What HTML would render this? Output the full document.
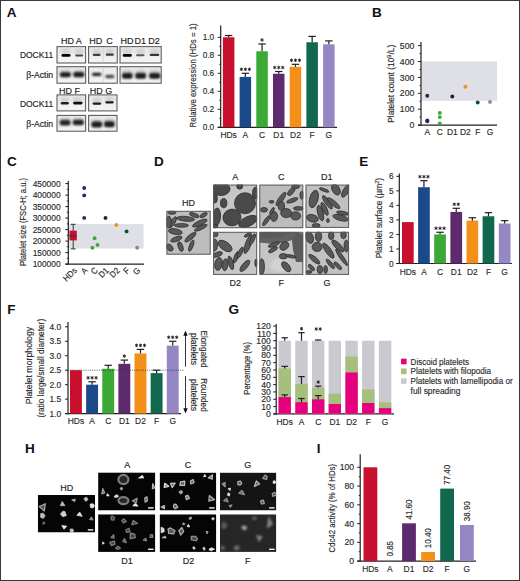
<!DOCTYPE html>
<html><head><meta charset="utf-8"><style>
html,body{margin:0;padding:0;background:#fff;overflow:hidden;width:520px;height:581px;}
svg{display:block;}
text{font-family:"Liberation Sans", sans-serif;}
</style></head><body>
<svg width="520" height="581" viewBox="0 0 520 581">
<defs>
<filter id="bl" x="-50%" y="-50%" width="200%" height="200%"><feGaussianBlur stdDeviation="0.6"/></filter>
<filter id="bl3" x="-50%" y="-50%" width="200%" height="200%"><feGaussianBlur stdDeviation="0.75"/></filter>
<filter id="bl5" x="-50%" y="-50%" width="200%" height="200%"><feGaussianBlur stdDeviation="0.8"/></filter>
<filter id="bl4" x="-50%" y="-50%" width="200%" height="200%"><feGaussianBlur stdDeviation="1.2"/></filter>
<filter id="bl2" x="-50%" y="-50%" width="200%" height="200%"><feGaussianBlur stdDeviation="1.5"/></filter>
<linearGradient id="blotbg" x1="0" y1="0" x2="0" y2="1"><stop offset="0" stop-color="#e9e9e9"/><stop offset="1" stop-color="#f4f4f4"/></linearGradient>
</defs>
<rect x="0" y="0" width="520" height="581" fill="#fff"/>
<text transform="translate(6.7 17) scale(1.13 1)" font-size="12" font-weight="bold" fill="#111">A</text>
<rect x="57.0" y="46.6" width="28.600000000000005" height="16.400000000000002" fill="url(#blotbg)" stroke="#5e5e5e" stroke-width="1.1"/>
<rect x="57.0" y="66.69999999999999" width="28.600000000000005" height="16.500000000000004" fill="url(#blotbg)" stroke="#5e5e5e" stroke-width="1.1"/>
<rect x="88.6" y="46.6" width="28.700000000000006" height="16.400000000000002" fill="url(#blotbg)" stroke="#5e5e5e" stroke-width="1.1"/>
<rect x="88.6" y="66.69999999999999" width="28.700000000000006" height="16.500000000000004" fill="url(#blotbg)" stroke="#5e5e5e" stroke-width="1.1"/>
<rect x="120.0" y="46.6" width="41.2" height="16.400000000000002" fill="url(#blotbg)" stroke="#5e5e5e" stroke-width="1.1"/>
<rect x="120.0" y="66.69999999999999" width="41.2" height="16.500000000000004" fill="url(#blotbg)" stroke="#5e5e5e" stroke-width="1.1"/>
<rect x="57.0" y="94.89999999999999" width="28.600000000000005" height="16.000000000000004" fill="url(#blotbg)" stroke="#5e5e5e" stroke-width="1.1"/>
<rect x="57.0" y="115.39999999999999" width="28.600000000000005" height="15.800000000000015" fill="url(#blotbg)" stroke="#5e5e5e" stroke-width="1.1"/>
<rect x="88.6" y="94.89999999999999" width="28.399999999999995" height="16.000000000000004" fill="url(#blotbg)" stroke="#5e5e5e" stroke-width="1.1"/>
<rect x="88.6" y="115.39999999999999" width="28.399999999999995" height="15.800000000000015" fill="url(#blotbg)" stroke="#5e5e5e" stroke-width="1.1"/>
<rect x="61.00" y="48.00" width="10" height="7" rx="2.5" fill="#d2d2d2" filter="url(#bl2)"/>
<rect x="74.70" y="48.00" width="9" height="7" rx="2.5" fill="#d2d2d2" filter="url(#bl2)"/>
<rect x="92.20" y="48.50" width="9" height="7" rx="2.5" fill="#d2d2d2" filter="url(#bl2)"/>
<rect x="105.30" y="48.50" width="9" height="7" rx="2.5" fill="#d2d2d2" filter="url(#bl2)"/>
<rect x="122.30" y="48.50" width="10" height="6" rx="2.5" fill="#d2d2d2" filter="url(#bl2)"/>
<rect x="135.80" y="48.50" width="9" height="6" rx="2.5" fill="#d2d2d2" filter="url(#bl2)"/>
<rect x="149.50" y="48.50" width="10" height="6" rx="2.5" fill="#d2d2d2" filter="url(#bl2)"/>
<rect x="60.50" y="97.00" width="9" height="6" rx="2.5" fill="#d2d2d2" filter="url(#bl2)"/>
<rect x="72.80" y="97.00" width="10" height="6" rx="2.5" fill="#d2d2d2" filter="url(#bl2)"/>
<rect x="92.40" y="97.50" width="9" height="6" rx="2.5" fill="#d2d2d2" filter="url(#bl2)"/>
<rect x="105.00" y="96.50" width="9" height="6" rx="2.5" fill="#d2d2d2" filter="url(#bl2)"/>
<rect x="59.90" y="70.00" width="11" height="5" rx="2.5" fill="#c4c4c4" filter="url(#bl2)"/>
<rect x="73.30" y="70.00" width="11" height="5" rx="2.5" fill="#c4c4c4" filter="url(#bl2)"/>
<rect x="121.80" y="70.00" width="11" height="6" rx="2.5" fill="#c4c4c4" filter="url(#bl2)"/>
<rect x="135.20" y="70.00" width="11" height="6" rx="2.5" fill="#c4c4c4" filter="url(#bl2)"/>
<rect x="149.20" y="70.00" width="11" height="6" rx="2.5" fill="#c4c4c4" filter="url(#bl2)"/>
<rect x="59.60" y="118.00" width="11" height="5" rx="2.5" fill="#c4c4c4" filter="url(#bl2)"/>
<rect x="72.80" y="118.00" width="11" height="5" rx="2.5" fill="#c4c4c4" filter="url(#bl2)"/>
<rect x="91.30" y="119.50" width="11" height="5" rx="2.5" fill="#c4c4c4" filter="url(#bl2)"/>
<rect x="103.90" y="119.00" width="11" height="5" rx="2.5" fill="#c4c4c4" filter="url(#bl2)"/>
<rect x="61.50" y="54.10" width="9" height="2.6" rx="1.3" fill="#000" filter="url(#bl)"/>
<rect x="75.20" y="54.40" width="8" height="2.2" rx="1.1" fill="#4a4a4a" filter="url(#bl)"/>
<rect x="92.80" y="53.80" width="7.8" height="2.2" rx="1.1" fill="#404040" filter="url(#bl)"/>
<rect x="105.80" y="53.55" width="8" height="2.3" rx="1.15" fill="#3a3a3a" filter="url(#bl)"/>
<rect x="122.80" y="54.05" width="9" height="2.7" rx="1.35" fill="#000" filter="url(#bl)"/>
<rect x="136.10" y="54.30" width="8.4" height="2.0" rx="1.0" fill="#5a5a5a" filter="url(#bl)"/>
<rect x="149.70" y="53.75" width="9.6" height="2.3" rx="1.15" fill="#383838" filter="url(#bl)"/>
<rect x="59.90" y="72.30" width="11" height="5" rx="2.5" fill="#1a1a1a" filter="url(#bl5)"/>
<rect x="73.30" y="72.00" width="11" height="5.2" rx="2.5" fill="#1a1a1a" filter="url(#bl5)"/>
<rect x="91.95" y="72.70" width="9.5" height="3.4" rx="1.7" fill="#202020" filter="url(#bl5)"/>
<rect x="105.20" y="74.80" width="9.2" height="3.4" rx="1.7" fill="#4a4a4a" filter="url(#bl5)"/>
<rect x="122.00" y="72.90" width="10.6" height="5.8" rx="2.5" fill="#1c1c1c" filter="url(#bl5)"/>
<rect x="135.30" y="72.90" width="10.8" height="5.8" rx="2.5" fill="#1c1c1c" filter="url(#bl5)"/>
<rect x="149.10" y="72.90" width="11.2" height="5.8" rx="2.5" fill="#1c1c1c" filter="url(#bl5)"/>
<rect x="60.80" y="102.10" width="8" height="2.4" rx="1.2" fill="#1e1e1e" filter="url(#bl)"/>
<rect x="73.10" y="101.80" width="9.4" height="2.6" rx="1.3" fill="#0e0e0e" filter="url(#bl)"/>
<rect x="92.70" y="102.40" width="8.4" height="2.4" rx="1.2" fill="#1e1e1e" filter="url(#bl)"/>
<rect x="105.30" y="101.15" width="8.4" height="2.3" rx="1.15" fill="#1e1e1e" filter="url(#bl)"/>
<rect x="59.70" y="120.00" width="10.8" height="5.4" rx="2.5" fill="#242424" filter="url(#bl5)"/>
<rect x="72.80" y="119.80" width="11" height="5.4" rx="2.5" fill="#242424" filter="url(#bl5)"/>
<rect x="91.40" y="121.50" width="10.8" height="6" rx="2.5" fill="#1c1c1c" filter="url(#bl5)"/>
<rect x="104.10" y="121.20" width="10.6" height="6" rx="2.5" fill="#1c1c1c" filter="url(#bl5)"/>
<line x1="103.2" y1="47" x2="103.2" y2="63" stroke="#bbb" stroke-width="0.5"/>
<line x1="103.2" y1="67" x2="103.2" y2="83" stroke="#bbb" stroke-width="0.5"/>
<text transform="translate(67.6 43.7) scale(0.98 1)" font-size="9.2" text-anchor="middle" fill="#222" stroke="#222" stroke-width="0.15">HD</text>
<text transform="translate(78.8 43.7) scale(0.98 1)" font-size="9.2" text-anchor="middle" fill="#222" stroke="#222" stroke-width="0.15">A</text>
<text transform="translate(95.7 43.7) scale(0.98 1)" font-size="9.2" text-anchor="middle" fill="#222" stroke="#222" stroke-width="0.15">HD</text>
<text transform="translate(109.4 43.7) scale(0.98 1)" font-size="9.2" text-anchor="middle" fill="#222" stroke="#222" stroke-width="0.15">C</text>
<text transform="translate(127 43.7) scale(0.98 1)" font-size="9.2" text-anchor="middle" fill="#222" stroke="#222" stroke-width="0.15">HD</text>
<text transform="translate(140.2 43.7) scale(0.98 1)" font-size="9.2" text-anchor="middle" fill="#222" stroke="#222" stroke-width="0.15">D1</text>
<text transform="translate(153.9 43.7) scale(0.98 1)" font-size="9.2" text-anchor="middle" fill="#222" stroke="#222" stroke-width="0.15">D2</text>
<text transform="translate(65.6 93.8) scale(0.98 1)" font-size="9.2" text-anchor="middle" fill="#222" stroke="#222" stroke-width="0.15">HD</text>
<text transform="translate(77.3 93.8) scale(0.98 1)" font-size="9.2" text-anchor="middle" fill="#222" stroke="#222" stroke-width="0.15">F</text>
<text transform="translate(96.3 93.8) scale(0.98 1)" font-size="9.2" text-anchor="middle" fill="#222" stroke="#222" stroke-width="0.15">HD</text>
<text transform="translate(108.8 93.8) scale(0.98 1)" font-size="9.2" text-anchor="middle" fill="#222" stroke="#222" stroke-width="0.15">G</text>
<text transform="translate(53.1 57.9)" font-size="8.4" text-anchor="end" fill="#222" stroke="#222" stroke-width="0.15" textLength="33.20" lengthAdjust="spacingAndGlyphs">DOCK11</text>
<text transform="translate(53.1 77.5)" font-size="8.2" text-anchor="end" fill="#222" stroke="#222" stroke-width="0.15" textLength="26.90" lengthAdjust="spacingAndGlyphs">&#946;-Actin</text>
<text transform="translate(53.1 107.1)" font-size="8.4" text-anchor="end" fill="#222" stroke="#222" stroke-width="0.15" textLength="33.20" lengthAdjust="spacingAndGlyphs">DOCK11</text>
<text transform="translate(53.1 126.5)" font-size="8.2" text-anchor="end" fill="#222" stroke="#222" stroke-width="0.15" textLength="26.90" lengthAdjust="spacingAndGlyphs">&#946;-Actin</text>
<line x1="220.7" y1="25.5" x2="220.7" y2="127.89999999999999" stroke="#231f20" stroke-width="1.2"/>
<line x1="217.7" y1="127.3" x2="220.7" y2="127.3" stroke="#231f20" stroke-width="1"/>
<text transform="translate(214.2 130.4) scale(0.95 1)" font-size="8.7" text-anchor="end" fill="#2b2b2b" stroke="#2b2b2b" stroke-width="0.15">0.0</text>
<line x1="217.7" y1="109.3" x2="220.7" y2="109.3" stroke="#231f20" stroke-width="1"/>
<text transform="translate(214.2 112.39999999999999) scale(0.95 1)" font-size="8.7" text-anchor="end" fill="#2b2b2b" stroke="#2b2b2b" stroke-width="0.15">0.2</text>
<line x1="217.7" y1="91.3" x2="220.7" y2="91.3" stroke="#231f20" stroke-width="1"/>
<text transform="translate(214.2 94.39999999999999) scale(0.95 1)" font-size="8.7" text-anchor="end" fill="#2b2b2b" stroke="#2b2b2b" stroke-width="0.15">0.4</text>
<line x1="217.7" y1="73.3" x2="220.7" y2="73.3" stroke="#231f20" stroke-width="1"/>
<text transform="translate(214.2 76.39999999999999) scale(0.95 1)" font-size="8.7" text-anchor="end" fill="#2b2b2b" stroke="#2b2b2b" stroke-width="0.15">0.6</text>
<line x1="217.7" y1="55.3" x2="220.7" y2="55.3" stroke="#231f20" stroke-width="1"/>
<text transform="translate(214.2 58.4) scale(0.95 1)" font-size="8.7" text-anchor="end" fill="#2b2b2b" stroke="#2b2b2b" stroke-width="0.15">0.8</text>
<line x1="217.7" y1="37.3" x2="220.7" y2="37.3" stroke="#231f20" stroke-width="1"/>
<text transform="translate(214.2 40.4) scale(0.95 1)" font-size="8.7" text-anchor="end" fill="#2b2b2b" stroke="#2b2b2b" stroke-width="0.15">1.0</text>
<line x1="219.2" y1="118.3" x2="220.7" y2="118.3" stroke="#231f20" stroke-width="0.9"/>
<line x1="219.2" y1="100.3" x2="220.7" y2="100.3" stroke="#231f20" stroke-width="0.9"/>
<line x1="219.2" y1="82.3" x2="220.7" y2="82.3" stroke="#231f20" stroke-width="0.9"/>
<line x1="219.2" y1="64.3" x2="220.7" y2="64.3" stroke="#231f20" stroke-width="0.9"/>
<line x1="219.2" y1="46.3" x2="220.7" y2="46.3" stroke="#231f20" stroke-width="0.9"/>
<line x1="217.7" y1="127.3" x2="337" y2="127.3" stroke="#231f20" stroke-width="1.2"/>
<rect x="222.9" y="37.3" width="11.5" height="90.0" fill="#c8102e"/>
<line x1="228.65" y1="37.3" x2="228.65" y2="35.5" stroke="#231f20" stroke-width="1.2"/>
<line x1="224.95000000000002" y1="35.5" x2="232.35" y2="35.5" stroke="#231f20" stroke-width="1.2"/>
<text transform="translate(228.65 137.9) scale(0.98 1)" font-size="8.6" text-anchor="middle" fill="#2b2b2b" stroke="#2b2b2b" stroke-width="0.15">HDs</text>
<rect x="239.6" y="76.89999999999999" width="11.5" height="50.400000000000006" fill="#1a4a8a"/>
<line x1="245.35" y1="76.89999999999999" x2="245.35" y2="73.3" stroke="#231f20" stroke-width="1.2"/>
<line x1="241.65" y1="73.3" x2="249.04999999999998" y2="73.3" stroke="#231f20" stroke-width="1.2"/>
<text transform="translate(245.35 137.9) scale(0.98 1)" font-size="8.6" text-anchor="middle" fill="#2b2b2b" stroke="#2b2b2b" stroke-width="0.15">A</text>
<rect x="256.3" y="51.25" width="11.5" height="76.05" fill="#3aa935"/>
<line x1="262.05" y1="51.25" x2="262.05" y2="43.959999999999994" stroke="#231f20" stroke-width="1.2"/>
<line x1="258.35" y1="43.959999999999994" x2="265.75" y2="43.959999999999994" stroke="#231f20" stroke-width="1.2"/>
<text transform="translate(262.05 137.9) scale(0.98 1)" font-size="8.6" text-anchor="middle" fill="#2b2b2b" stroke="#2b2b2b" stroke-width="0.15">C</text>
<rect x="273.0" y="73.75" width="11.5" height="53.55" fill="#5e2a6e"/>
<line x1="278.75" y1="73.75" x2="278.75" y2="71.5" stroke="#231f20" stroke-width="1.2"/>
<line x1="275.05" y1="71.5" x2="282.45" y2="71.5" stroke="#231f20" stroke-width="1.2"/>
<text transform="translate(278.75 137.9) scale(0.98 1)" font-size="8.6" text-anchor="middle" fill="#2b2b2b" stroke="#2b2b2b" stroke-width="0.15">D1</text>
<rect x="289.7" y="66.82" width="11.5" height="60.480000000000004" fill="#f39019"/>
<line x1="295.45" y1="66.82" x2="295.45" y2="64.30000000000001" stroke="#231f20" stroke-width="1.2"/>
<line x1="291.75" y1="64.30000000000001" x2="299.15" y2="64.30000000000001" stroke="#231f20" stroke-width="1.2"/>
<text transform="translate(295.45 137.9) scale(0.98 1)" font-size="8.6" text-anchor="middle" fill="#2b2b2b" stroke="#2b2b2b" stroke-width="0.15">D2</text>
<rect x="306.4" y="42.25" width="11.5" height="85.05" fill="#12684e"/>
<line x1="312.15" y1="42.25" x2="312.15" y2="36.39999999999999" stroke="#231f20" stroke-width="1.2"/>
<line x1="308.45" y1="36.39999999999999" x2="315.84999999999997" y2="36.39999999999999" stroke="#231f20" stroke-width="1.2"/>
<text transform="translate(312.15 137.9) scale(0.98 1)" font-size="8.6" text-anchor="middle" fill="#2b2b2b" stroke="#2b2b2b" stroke-width="0.15">F</text>
<rect x="323.1" y="44.31999999999999" width="11.5" height="82.98" fill="#9487c4"/>
<line x1="328.85" y1="44.31999999999999" x2="328.85" y2="40.900000000000006" stroke="#231f20" stroke-width="1.2"/>
<line x1="325.15000000000003" y1="40.900000000000006" x2="332.55" y2="40.900000000000006" stroke="#231f20" stroke-width="1.2"/>
<text transform="translate(328.85 137.9) scale(0.98 1)" font-size="8.6" text-anchor="middle" fill="#2b2b2b" stroke="#2b2b2b" stroke-width="0.15">G</text>
<path d="M241.35 67.95L241.35 70.65M240.18 68.62L242.52 69.97M242.52 68.62L240.18 69.97" stroke="#222" stroke-width="0.95" stroke-linecap="round" fill="none"/>
<path d="M245.35 67.95L245.35 70.65M244.18 68.62L246.52 69.97M246.52 68.62L244.18 69.97" stroke="#222" stroke-width="0.95" stroke-linecap="round" fill="none"/>
<path d="M249.35 67.95L249.35 70.65M248.18 68.62L250.52 69.97M250.52 68.62L248.18 69.97" stroke="#222" stroke-width="0.95" stroke-linecap="round" fill="none"/>
<path d="M262.05 38.61L262.05 41.31M260.88 39.28L263.22 40.63M263.22 39.28L260.88 40.63" stroke="#222" stroke-width="0.95" stroke-linecap="round" fill="none"/>
<path d="M274.75 66.15L274.75 68.85M273.58 66.83L275.92 68.17M275.92 66.83L273.58 68.17" stroke="#222" stroke-width="0.95" stroke-linecap="round" fill="none"/>
<path d="M278.75 66.15L278.75 68.85M277.58 66.83L279.92 68.17M279.92 66.83L277.58 68.17" stroke="#222" stroke-width="0.95" stroke-linecap="round" fill="none"/>
<path d="M282.75 66.15L282.75 68.85M281.58 66.83L283.92 68.17M283.92 66.83L281.58 68.17" stroke="#222" stroke-width="0.95" stroke-linecap="round" fill="none"/>
<path d="M291.45 58.95L291.45 61.65M290.28 59.63L292.62 60.98M292.62 59.63L290.28 60.98" stroke="#222" stroke-width="0.95" stroke-linecap="round" fill="none"/>
<path d="M295.45 58.95L295.45 61.65M294.28 59.63L296.62 60.98M296.62 59.63L294.28 60.98" stroke="#222" stroke-width="0.95" stroke-linecap="round" fill="none"/>
<path d="M299.45 58.95L299.45 61.65M298.28 59.63L300.62 60.98M300.62 59.63L298.28 60.98" stroke="#222" stroke-width="0.95" stroke-linecap="round" fill="none"/>
<text transform="translate(196.3 75.4) rotate(-90)" font-size="8.6" text-anchor="middle" fill="#2b2b2b" stroke="#2b2b2b" stroke-width="0.15" textLength="104.00" lengthAdjust="spacingAndGlyphs">Relative expression (HDs = 1)</text>
<text transform="translate(372.0 17.3) scale(1.13 1)" font-size="12" font-weight="bold" fill="#111">B</text>
<rect x="421.5" y="61.3" width="75.5" height="39.5" fill="#dfdfe6"/>
<line x1="421" y1="42" x2="421" y2="125.69999999999999" stroke="#231f20" stroke-width="1.2"/>
<line x1="418" y1="125.1" x2="421" y2="125.1" stroke="#231f20" stroke-width="1"/>
<text transform="translate(414.3 128.2)" font-size="8.7" text-anchor="end" fill="#2b2b2b" stroke="#2b2b2b" stroke-width="0.15">0</text>
<line x1="418" y1="109.19999999999999" x2="421" y2="109.19999999999999" stroke="#231f20" stroke-width="1"/>
<text transform="translate(414.3 112.29999999999998)" font-size="8.7" text-anchor="end" fill="#2b2b2b" stroke="#2b2b2b" stroke-width="0.15">100</text>
<line x1="418" y1="93.3" x2="421" y2="93.3" stroke="#231f20" stroke-width="1"/>
<text transform="translate(414.3 96.39999999999999)" font-size="8.7" text-anchor="end" fill="#2b2b2b" stroke="#2b2b2b" stroke-width="0.15">200</text>
<line x1="418" y1="77.39999999999999" x2="421" y2="77.39999999999999" stroke="#231f20" stroke-width="1"/>
<text transform="translate(414.3 80.49999999999999)" font-size="8.7" text-anchor="end" fill="#2b2b2b" stroke="#2b2b2b" stroke-width="0.15">300</text>
<line x1="418" y1="61.49999999999999" x2="421" y2="61.49999999999999" stroke="#231f20" stroke-width="1"/>
<text transform="translate(414.3 64.6)" font-size="8.7" text-anchor="end" fill="#2b2b2b" stroke="#2b2b2b" stroke-width="0.15">400</text>
<line x1="418" y1="45.599999999999994" x2="421" y2="45.599999999999994" stroke="#231f20" stroke-width="1"/>
<text transform="translate(414.3 48.699999999999996)" font-size="8.7" text-anchor="end" fill="#2b2b2b" stroke="#2b2b2b" stroke-width="0.15">500</text>
<line x1="419.5" y1="117.14999999999999" x2="421" y2="117.14999999999999" stroke="#231f20" stroke-width="0.9"/>
<line x1="419.5" y1="101.25" x2="421" y2="101.25" stroke="#231f20" stroke-width="0.9"/>
<line x1="419.5" y1="85.35" x2="421" y2="85.35" stroke="#231f20" stroke-width="0.9"/>
<line x1="419.5" y1="69.44999999999999" x2="421" y2="69.44999999999999" stroke="#231f20" stroke-width="0.9"/>
<line x1="419.5" y1="53.55" x2="421" y2="53.55" stroke="#231f20" stroke-width="0.9"/>
<line x1="418" y1="125.1" x2="497" y2="125.1" stroke="#231f20" stroke-width="1.2"/>
<circle cx="427.3" cy="95.8" r="1.95" fill="#1c2f5e"/>
<circle cx="427.3" cy="120.5" r="1.95" fill="#1c2f5e"/>
<circle cx="427.3" cy="121.3" r="1.95" fill="#1c2f5e"/>
<circle cx="439.8" cy="112.9" r="1.95" fill="#3aa935"/>
<circle cx="439.8" cy="117.1" r="1.95" fill="#3aa935"/>
<circle cx="439.8" cy="123.5" r="1.95" fill="#3aa935"/>
<circle cx="452.3" cy="96.5" r="1.95" fill="#2b1838"/>
<circle cx="465.4" cy="86.8" r="1.95" fill="#f39019"/>
<circle cx="477.7" cy="102.5" r="1.95" fill="#0c4f3a"/>
<circle cx="490" cy="101.9" r="1.95" fill="#8d86a8"/>
<text transform="translate(427.3 135.2) scale(0.98 1)" font-size="8.6" text-anchor="middle" fill="#2b2b2b" stroke="#2b2b2b" stroke-width="0.15">A</text>
<text transform="translate(439.8 135.2) scale(0.98 1)" font-size="8.6" text-anchor="middle" fill="#2b2b2b" stroke="#2b2b2b" stroke-width="0.15">C</text>
<text transform="translate(452.3 135.2) scale(0.98 1)" font-size="8.6" text-anchor="middle" fill="#2b2b2b" stroke="#2b2b2b" stroke-width="0.15">D1</text>
<text transform="translate(465.4 135.2) scale(0.98 1)" font-size="8.6" text-anchor="middle" fill="#2b2b2b" stroke="#2b2b2b" stroke-width="0.15">D2</text>
<text transform="translate(477.7 135.2) scale(0.98 1)" font-size="8.6" text-anchor="middle" fill="#2b2b2b" stroke="#2b2b2b" stroke-width="0.15">F</text>
<text transform="translate(490 135.2) scale(0.98 1)" font-size="8.6" text-anchor="middle" fill="#2b2b2b" stroke="#2b2b2b" stroke-width="0.15">G</text>
<text transform="translate(393.8 83.8) rotate(-90)" font-size="8.4" text-anchor="middle" fill="#2b2b2b" stroke="#2b2b2b" stroke-width="0.15">Platelet count (10<tspan dy="-3" font-size="5.5">9</tspan><tspan dy="3">/L)</tspan></text>
<text transform="translate(7.0 166) scale(1.13 1)" font-size="12" font-weight="bold" fill="#111">C</text>
<rect x="68.3" y="224" width="75.3" height="24.5" fill="#dfdfe6"/>
<line x1="68.3" y1="181" x2="68.3" y2="264.70000000000005" stroke="#231f20" stroke-width="1.2"/>
<line x1="65.3" y1="264.1" x2="68.3" y2="264.1" stroke="#231f20" stroke-width="1"/>
<text transform="translate(60.6 267.20000000000005) scale(0.965 1)" font-size="8.7" text-anchor="end" fill="#2b2b2b" stroke="#2b2b2b" stroke-width="0.15">100000</text>
<line x1="65.3" y1="252.60000000000002" x2="68.3" y2="252.60000000000002" stroke="#231f20" stroke-width="1"/>
<text transform="translate(60.6 255.70000000000002) scale(0.965 1)" font-size="8.7" text-anchor="end" fill="#2b2b2b" stroke="#2b2b2b" stroke-width="0.15">150000</text>
<line x1="65.3" y1="241.10000000000002" x2="68.3" y2="241.10000000000002" stroke="#231f20" stroke-width="1"/>
<text transform="translate(60.6 244.20000000000002) scale(0.965 1)" font-size="8.7" text-anchor="end" fill="#2b2b2b" stroke="#2b2b2b" stroke-width="0.15">200000</text>
<line x1="65.3" y1="229.60000000000002" x2="68.3" y2="229.60000000000002" stroke="#231f20" stroke-width="1"/>
<text transform="translate(60.6 232.70000000000002) scale(0.965 1)" font-size="8.7" text-anchor="end" fill="#2b2b2b" stroke="#2b2b2b" stroke-width="0.15">250000</text>
<line x1="65.3" y1="218.10000000000002" x2="68.3" y2="218.10000000000002" stroke="#231f20" stroke-width="1"/>
<text transform="translate(60.6 221.20000000000002) scale(0.965 1)" font-size="8.7" text-anchor="end" fill="#2b2b2b" stroke="#2b2b2b" stroke-width="0.15">300000</text>
<line x1="65.3" y1="206.60000000000002" x2="68.3" y2="206.60000000000002" stroke="#231f20" stroke-width="1"/>
<text transform="translate(60.6 209.70000000000002) scale(0.965 1)" font-size="8.7" text-anchor="end" fill="#2b2b2b" stroke="#2b2b2b" stroke-width="0.15">350000</text>
<line x1="65.3" y1="195.10000000000002" x2="68.3" y2="195.10000000000002" stroke="#231f20" stroke-width="1"/>
<text transform="translate(60.6 198.20000000000002) scale(0.965 1)" font-size="8.7" text-anchor="end" fill="#2b2b2b" stroke="#2b2b2b" stroke-width="0.15">400000</text>
<line x1="65.3" y1="183.60000000000002" x2="68.3" y2="183.60000000000002" stroke="#231f20" stroke-width="1"/>
<text transform="translate(60.6 186.70000000000002) scale(0.965 1)" font-size="8.7" text-anchor="end" fill="#2b2b2b" stroke="#2b2b2b" stroke-width="0.15">450000</text>
<line x1="66.8" y1="258.35" x2="68.3" y2="258.35" stroke="#231f20" stroke-width="0.9"/>
<line x1="66.8" y1="246.85000000000002" x2="68.3" y2="246.85000000000002" stroke="#231f20" stroke-width="0.9"/>
<line x1="66.8" y1="235.35000000000002" x2="68.3" y2="235.35000000000002" stroke="#231f20" stroke-width="0.9"/>
<line x1="66.8" y1="223.85000000000002" x2="68.3" y2="223.85000000000002" stroke="#231f20" stroke-width="0.9"/>
<line x1="66.8" y1="212.35000000000002" x2="68.3" y2="212.35000000000002" stroke="#231f20" stroke-width="0.9"/>
<line x1="66.8" y1="200.85000000000002" x2="68.3" y2="200.85000000000002" stroke="#231f20" stroke-width="0.9"/>
<line x1="66.8" y1="189.35000000000002" x2="68.3" y2="189.35000000000002" stroke="#231f20" stroke-width="0.9"/>
<line x1="65.3" y1="264.1" x2="144" y2="264.1" stroke="#231f20" stroke-width="1.2"/>
<line x1="73.2" y1="224.3" x2="73.2" y2="248.9" stroke="#333" stroke-width="1"/>
<line x1="70.7" y1="224.3" x2="75.7" y2="224.3" stroke="#333" stroke-width="1"/>
<line x1="70.7" y1="248.9" x2="75.7" y2="248.9" stroke="#333" stroke-width="1"/>
<rect x="69.5" y="230.7" width="7.3" height="9.7" fill="#c8102e"/>
<line x1="69.5" y1="235.9" x2="76.8" y2="235.9" stroke="#333" stroke-width="1"/>
<circle cx="84.2" cy="188" r="1.95" fill="#1c2f5e"/>
<circle cx="84.2" cy="195.4" r="1.95" fill="#1c2f5e"/>
<circle cx="84.2" cy="217.9" r="1.95" fill="#1c2f5e"/>
<circle cx="94.6" cy="238.3" r="1.95" fill="#3aa935"/>
<circle cx="92.4" cy="247.7" r="1.95" fill="#3aa935"/>
<circle cx="97.5" cy="244.9" r="1.95" fill="#3aa935"/>
<circle cx="105.5" cy="217.9" r="1.95" fill="#2b1838"/>
<circle cx="116.4" cy="225" r="1.95" fill="#f39019"/>
<circle cx="126.6" cy="231.4" r="1.95" fill="#0c4f3a"/>
<circle cx="137.2" cy="247.7" r="1.95" fill="#8d86a8"/>
<text transform="translate(77.5 271) rotate(-45) scale(0.93 1)" font-size="8.6" text-anchor="end" fill="#2b2b2b" stroke="#2b2b2b" stroke-width="0.15">HDs</text>
<text transform="translate(88.2 271) rotate(-45) scale(0.93 1)" font-size="8.6" text-anchor="end" fill="#2b2b2b" stroke="#2b2b2b" stroke-width="0.15">A</text>
<text transform="translate(98.3 271) rotate(-45) scale(0.93 1)" font-size="8.6" text-anchor="end" fill="#2b2b2b" stroke="#2b2b2b" stroke-width="0.15">C</text>
<text transform="translate(109.3 271) rotate(-45) scale(0.93 1)" font-size="8.6" text-anchor="end" fill="#2b2b2b" stroke="#2b2b2b" stroke-width="0.15">D1</text>
<text transform="translate(120.3 271) rotate(-45) scale(0.93 1)" font-size="8.6" text-anchor="end" fill="#2b2b2b" stroke="#2b2b2b" stroke-width="0.15">D2</text>
<text transform="translate(130.3 271) rotate(-45) scale(0.93 1)" font-size="8.6" text-anchor="end" fill="#2b2b2b" stroke="#2b2b2b" stroke-width="0.15">F</text>
<text transform="translate(140.8 271) rotate(-45) scale(0.93 1)" font-size="8.6" text-anchor="end" fill="#2b2b2b" stroke="#2b2b2b" stroke-width="0.15">G</text>
<text transform="translate(26.3 222) rotate(-90)" font-size="8.4" text-anchor="middle" fill="#2b2b2b" stroke="#2b2b2b" stroke-width="0.15" textLength="88.00" lengthAdjust="spacingAndGlyphs">Platelet size (FSC-H; a.u.)</text>
<text transform="translate(154.0 166) scale(1.13 1)" font-size="12" font-weight="bold" fill="#111">D</text>
<clipPath id="emHD"><rect x="166.4" y="210.8" width="44.3" height="43.9"/></clipPath>
<g clip-path="url(#emHD)">
<rect x="166.4" y="210.8" width="44.3" height="43.9" fill="#bdbdbd"/>
<ellipse cx="185.7" cy="218.8" rx="9.00" ry="2.39" fill="#585858" stroke="#2e2e2e" stroke-width="0.8" transform="rotate(5 185.7 218.8)"/>
<ellipse cx="173" cy="222.1" rx="6.00" ry="2.12" fill="#585858" stroke="#2e2e2e" stroke-width="0.8" transform="rotate(-60 173 222.1)"/>
<ellipse cx="181.4" cy="225.4" rx="7.00" ry="1.84" fill="#585858" stroke="#2e2e2e" stroke-width="0.8" transform="rotate(0 181.4 225.4)"/>
<ellipse cx="175.3" cy="231.6" rx="7.00" ry="2.76" fill="#585858" stroke="#2e2e2e" stroke-width="0.8" transform="rotate(10 175.3 231.6)"/>
<ellipse cx="194.2" cy="215.1" rx="5.00" ry="1.84" fill="#585858" stroke="#2e2e2e" stroke-width="0.8" transform="rotate(20 194.2 215.1)"/>
<ellipse cx="203.6" cy="215.1" rx="4.00" ry="1.84" fill="#585858" stroke="#2e2e2e" stroke-width="0.8" transform="rotate(-30 203.6 215.1)"/>
<ellipse cx="199.8" cy="223.1" rx="8.00" ry="2.30" fill="#585858" stroke="#2e2e2e" stroke-width="0.8" transform="rotate(-25 199.8 223.1)"/>
<ellipse cx="200.8" cy="227.8" rx="7.00" ry="1.84" fill="#585858" stroke="#2e2e2e" stroke-width="0.8" transform="rotate(-25 200.8 227.8)"/>
<ellipse cx="176.3" cy="239.1" rx="6.00" ry="2.30" fill="#585858" stroke="#2e2e2e" stroke-width="0.8" transform="rotate(-20 176.3 239.1)"/>
<ellipse cx="190.4" cy="237.2" rx="7.00" ry="2.30" fill="#585858" stroke="#2e2e2e" stroke-width="0.8" transform="rotate(-40 190.4 237.2)"/>
<ellipse cx="180.5" cy="246.6" rx="5.00" ry="2.30" fill="#585858" stroke="#2e2e2e" stroke-width="0.8" transform="rotate(70 180.5 246.6)"/>
<ellipse cx="191.3" cy="245.7" rx="6.00" ry="1.84" fill="#585858" stroke="#2e2e2e" stroke-width="0.8" transform="rotate(-70 191.3 245.7)"/>
<ellipse cx="169.7" cy="247.6" rx="4.00" ry="2.76" fill="#585858" stroke="#2e2e2e" stroke-width="0.8" transform="rotate(45 169.7 247.6)"/>
<ellipse cx="168.7" cy="222.1" rx="2.76" ry="6.00" fill="#585858" stroke="#2e2e2e" stroke-width="0.8" transform="rotate(0 168.7 222.1)"/>
<ellipse cx="172" cy="212.5" rx="4.00" ry="1.84" fill="#585858" stroke="#2e2e2e" stroke-width="0.8" transform="rotate(0 172 212.5)"/>
</g>
<rect x="166.9" y="211.3" width="43.3" height="42.9" fill="none" stroke="#5a5a5a" stroke-width="1"/>
<clipPath id="emA"><rect x="213.1" y="184.6" width="44.1" height="43.6"/></clipPath>
<g clip-path="url(#emA)">
<rect x="213.1" y="184.6" width="44.1" height="43.6" fill="#c6c6c6"/>
<ellipse cx="221" cy="189" rx="9.00" ry="6.50" fill="#4a4a4a" stroke="#2e2e2e" stroke-width="0.8" transform="rotate(0 221 189)"/>
<ellipse cx="245" cy="203.2" rx="10.50" ry="10.50" fill="#4a4a4a" stroke="#2e2e2e" stroke-width="0.8" transform="rotate(0 245 203.2)"/>
<ellipse cx="232" cy="217.5" rx="9.00" ry="8.30" fill="#4a4a4a" stroke="#2e2e2e" stroke-width="0.8" transform="rotate(-10 232 217.5)"/>
<ellipse cx="223.7" cy="203.2" rx="3.20" ry="4.60" fill="#4a4a4a" stroke="#2e2e2e" stroke-width="0.8" transform="rotate(0 223.7 203.2)"/>
<ellipse cx="255.5" cy="193" rx="3.00" ry="6.00" fill="#4a4a4a" stroke="#2e2e2e" stroke-width="0.8" transform="rotate(0 255.5 193)"/>
<ellipse cx="248" cy="221.5" rx="10.00" ry="4.80" fill="#4a4a4a" stroke="#2e2e2e" stroke-width="0.8" transform="rotate(-25 248 221.5)"/>
<ellipse cx="216.5" cy="217" rx="4.00" ry="9.00" fill="#4a4a4a" stroke="#2e2e2e" stroke-width="0.8" transform="rotate(5 216.5 217)"/>
<ellipse cx="214.8" cy="198.5" rx="2.50" ry="4.50" fill="#4a4a4a" stroke="#2e2e2e" stroke-width="0.8" transform="rotate(0 214.8 198.5)"/>
<ellipse cx="239.7" cy="186.2" rx="3.00" ry="3.00" fill="#4a4a4a" stroke="#2e2e2e" stroke-width="0.8" transform="rotate(0 239.7 186.2)"/>
<ellipse cx="214.8" cy="226.3" rx="3.00" ry="2.00" fill="#4a4a4a" stroke="#2e2e2e" stroke-width="0.8" transform="rotate(0 214.8 226.3)"/>
</g>
<rect x="213.6" y="185.1" width="43.1" height="42.6" fill="none" stroke="#5a5a5a" stroke-width="1"/>
<clipPath id="emC"><rect x="259.3" y="184.6" width="44" height="43.6"/></clipPath>
<g clip-path="url(#emC)">
<rect x="259.3" y="184.6" width="44" height="43.6" fill="#bcbcbc"/>
<ellipse cx="281" cy="199" rx="8.00" ry="2.30" fill="#585858" stroke="#2e2e2e" stroke-width="0.8" transform="rotate(-55 281 199)"/>
<ellipse cx="291.3" cy="191.4" rx="5.00" ry="2.30" fill="#585858" stroke="#2e2e2e" stroke-width="0.8" transform="rotate(-50 291.3 191.4)"/>
<ellipse cx="292.3" cy="200.4" rx="6.00" ry="1.84" fill="#585858" stroke="#2e2e2e" stroke-width="0.8" transform="rotate(-20 292.3 200.4)"/>
<ellipse cx="271.6" cy="201.8" rx="2.50" ry="1.38" fill="#585858" stroke="#2e2e2e" stroke-width="0.8" transform="rotate(0 271.6 201.8)"/>
<ellipse cx="264" cy="209.8" rx="3.50" ry="2.30" fill="#585858" stroke="#2e2e2e" stroke-width="0.8" transform="rotate(0 264 209.8)"/>
<ellipse cx="281.4" cy="206" rx="3.22" ry="4.50" fill="#585858" stroke="#2e2e2e" stroke-width="0.8" transform="rotate(0 281.4 206)"/>
<ellipse cx="286.2" cy="213.1" rx="5.50" ry="4.60" fill="#585858" stroke="#2e2e2e" stroke-width="0.8" transform="rotate(0 286.2 213.1)"/>
<ellipse cx="273.9" cy="216.4" rx="3.68" ry="5.00" fill="#585858" stroke="#2e2e2e" stroke-width="0.8" transform="rotate(0 273.9 216.4)"/>
<ellipse cx="295.6" cy="215.9" rx="5.00" ry="4.14" fill="#585858" stroke="#2e2e2e" stroke-width="0.8" transform="rotate(0 295.6 215.9)"/>
<ellipse cx="298.4" cy="208.4" rx="5.00" ry="1.84" fill="#585858" stroke="#2e2e2e" stroke-width="0.8" transform="rotate(0 298.4 208.4)"/>
<ellipse cx="266.4" cy="220.6" rx="6.00" ry="1.84" fill="#585858" stroke="#2e2e2e" stroke-width="0.8" transform="rotate(-55 266.4 220.6)"/>
<ellipse cx="301.8" cy="195.2" rx="1.84" ry="4.00" fill="#585858" stroke="#2e2e2e" stroke-width="0.8" transform="rotate(0 301.8 195.2)"/>
<ellipse cx="272" cy="211" rx="4.00" ry="1.38" fill="#585858" stroke="#2e2e2e" stroke-width="0.8" transform="rotate(-60 272 211)"/>
<ellipse cx="295.6" cy="186.7" rx="4.00" ry="1.84" fill="#585858" stroke="#2e2e2e" stroke-width="0.8" transform="rotate(0 295.6 186.7)"/>
</g>
<rect x="259.8" y="185.1" width="43" height="42.6" fill="none" stroke="#5a5a5a" stroke-width="1"/>
<clipPath id="emD1"><rect x="305.5" y="184.6" width="43.6" height="43.3"/></clipPath>
<g clip-path="url(#emD1)">
<rect x="305.5" y="184.6" width="43.6" height="43.3" fill="#c0c0c0"/>
<ellipse cx="313.8" cy="199" rx="4.14" ry="9.00" fill="#585858" stroke="#2e2e2e" stroke-width="0.8" transform="rotate(15 313.8 199)"/>
<ellipse cx="335.9" cy="189.5" rx="3.68" ry="6.00" fill="#585858" stroke="#2e2e2e" stroke-width="0.8" transform="rotate(-30 335.9 189.5)"/>
<ellipse cx="345.8" cy="191" rx="2.76" ry="7.00" fill="#585858" stroke="#2e2e2e" stroke-width="0.8" transform="rotate(30 345.8 191)"/>
<ellipse cx="324.1" cy="190" rx="5.00" ry="1.38" fill="#585858" stroke="#2e2e2e" stroke-width="0.8" transform="rotate(20 324.1 190)"/>
<ellipse cx="327.4" cy="202.3" rx="2.30" ry="8.00" fill="#585858" stroke="#2e2e2e" stroke-width="0.8" transform="rotate(-35 327.4 202.3)"/>
<ellipse cx="333.6" cy="203.2" rx="2.30" ry="8.00" fill="#585858" stroke="#2e2e2e" stroke-width="0.8" transform="rotate(-50 333.6 203.2)"/>
<ellipse cx="324.6" cy="208.9" rx="2.30" ry="7.00" fill="#585858" stroke="#2e2e2e" stroke-width="0.8" transform="rotate(-25 324.6 208.9)"/>
<ellipse cx="320.4" cy="213.1" rx="2.76" ry="8.00" fill="#585858" stroke="#2e2e2e" stroke-width="0.8" transform="rotate(-15 320.4 213.1)"/>
<ellipse cx="312.4" cy="218.3" rx="6.00" ry="3.68" fill="#585858" stroke="#2e2e2e" stroke-width="0.8" transform="rotate(15 312.4 218.3)"/>
<ellipse cx="340.6" cy="217.8" rx="8.00" ry="2.76" fill="#585858" stroke="#2e2e2e" stroke-width="0.8" transform="rotate(15 340.6 217.8)"/>
<ellipse cx="342.5" cy="213.1" rx="6.00" ry="1.84" fill="#585858" stroke="#2e2e2e" stroke-width="0.8" transform="rotate(10 342.5 213.1)"/>
<ellipse cx="316.1" cy="225.4" rx="4.00" ry="1.84" fill="#585858" stroke="#2e2e2e" stroke-width="0.8" transform="rotate(0 316.1 225.4)"/>
<ellipse cx="327.9" cy="220.6" rx="1.38" ry="2.00" fill="#585858" stroke="#2e2e2e" stroke-width="0.8" transform="rotate(0 327.9 220.6)"/>
</g>
<rect x="306.0" y="185.1" width="42.6" height="42.3" fill="none" stroke="#5a5a5a" stroke-width="1"/>
<clipPath id="emD2"><rect x="213.1" y="231.8" width="44.1" height="43.1"/></clipPath>
<g clip-path="url(#emD2)">
<rect x="213.1" y="231.8" width="44.1" height="43.1" fill="#c6c6c6"/>
<ellipse cx="225.1" cy="246" rx="8.00" ry="4.14" fill="#585858" stroke="#2e2e2e" stroke-width="0.8" transform="rotate(35 225.1 246)"/>
<ellipse cx="217.6" cy="254.4" rx="5.00" ry="2.30" fill="#585858" stroke="#2e2e2e" stroke-width="0.8" transform="rotate(-20 217.6 254.4)"/>
<ellipse cx="218.5" cy="263.9" rx="3.68" ry="6.50" fill="#585858" stroke="#2e2e2e" stroke-width="0.8" transform="rotate(10 218.5 263.9)"/>
<ellipse cx="225.1" cy="264.8" rx="2.76" ry="6.00" fill="#585858" stroke="#2e2e2e" stroke-width="0.8" transform="rotate(5 225.1 264.8)"/>
<ellipse cx="230.8" cy="262.9" rx="2.30" ry="7.00" fill="#585858" stroke="#2e2e2e" stroke-width="0.8" transform="rotate(-15 230.8 262.9)"/>
<ellipse cx="236" cy="257.3" rx="1.84" ry="6.00" fill="#585858" stroke="#2e2e2e" stroke-width="0.8" transform="rotate(20 236 257.3)"/>
<ellipse cx="240.2" cy="252.6" rx="1.84" ry="6.00" fill="#585858" stroke="#2e2e2e" stroke-width="0.8" transform="rotate(25 240.2 252.6)"/>
<ellipse cx="248.2" cy="244.1" rx="2.76" ry="10.00" fill="#585858" stroke="#2e2e2e" stroke-width="0.8" transform="rotate(20 248.2 244.1)"/>
<ellipse cx="252.5" cy="239.4" rx="1.84" ry="6.00" fill="#585858" stroke="#2e2e2e" stroke-width="0.8" transform="rotate(25 252.5 239.4)"/>
<ellipse cx="244.9" cy="265.8" rx="2.76" ry="7.00" fill="#585858" stroke="#2e2e2e" stroke-width="0.8" transform="rotate(40 244.9 265.8)"/>
<ellipse cx="214.8" cy="245" rx="2.76" ry="6.00" fill="#585858" stroke="#2e2e2e" stroke-width="0.8" transform="rotate(0 214.8 245)"/>
<ellipse cx="215" cy="234.5" rx="3.00" ry="2.30" fill="#585858" stroke="#2e2e2e" stroke-width="0.8" transform="rotate(0 215 234.5)"/>
<ellipse cx="247.8" cy="234.7" rx="4.00" ry="1.38" fill="#585858" stroke="#2e2e2e" stroke-width="0.8" transform="rotate(-30 247.8 234.7)"/>
<ellipse cx="256.2" cy="262.9" rx="1.38" ry="4.00" fill="#585858" stroke="#2e2e2e" stroke-width="0.8" transform="rotate(0 256.2 262.9)"/>
</g>
<rect x="213.6" y="232.3" width="43.1" height="42.1" fill="none" stroke="#5a5a5a" stroke-width="1"/>
<clipPath id="emF"><rect x="259.3" y="231.8" width="44" height="43.1"/></clipPath>
<g clip-path="url(#emF)">
<rect x="259.3" y="231.8" width="44" height="43.1" fill="#c4c4c4"/>
<path d="M259.3 231.8 L296 231.8 L303.3 234 L303.3 262 L296 262 L293 250 L292 240 L282 243 L270 243.5 L259.3 242.5 Z" fill="#5a5a5a"/>
<path d="M259.3 242.5 L270 243.5 L282 243 L292 240 L296 236 L296 231.8 L282 236 L270 238 L259.3 238 Z" fill="#6a6a6a" opacity="0.5"/>
<ellipse cx="280" cy="265" rx="10" ry="7" fill="#dcdcdc" opacity="0.6" filter="url(#bl2)"/>
<ellipse cx="273.9" cy="244.6" rx="6.00" ry="1.84" fill="#585858" stroke="#2e2e2e" stroke-width="0.8" transform="rotate(-20 273.9 244.6)"/>
<ellipse cx="273" cy="249.7" rx="5.00" ry="1.84" fill="#585858" stroke="#2e2e2e" stroke-width="0.8" transform="rotate(-30 273 249.7)"/>
<ellipse cx="284.3" cy="246" rx="5.00" ry="3.68" fill="#585858" stroke="#2e2e2e" stroke-width="0.8" transform="rotate(-40 284.3 246)"/>
<ellipse cx="283.3" cy="256.3" rx="4.00" ry="2.76" fill="#585858" stroke="#2e2e2e" stroke-width="0.8" transform="rotate(0 283.3 256.3)"/>
<ellipse cx="290.9" cy="256.3" rx="5.00" ry="1.38" fill="#585858" stroke="#2e2e2e" stroke-width="0.8" transform="rotate(10 290.9 256.3)"/>
<ellipse cx="286.2" cy="266.7" rx="6.00" ry="3.22" fill="#585858" stroke="#2e2e2e" stroke-width="0.8" transform="rotate(50 286.2 266.7)"/>
<ellipse cx="261.7" cy="266.7" rx="2.76" ry="8.00" fill="#585858" stroke="#2e2e2e" stroke-width="0.8" transform="rotate(0 261.7 266.7)"/>
</g>
<rect x="259.8" y="232.3" width="43" height="42.1" fill="none" stroke="#5a5a5a" stroke-width="1"/>
<clipPath id="emG"><rect x="305.5" y="231.8" width="43.6" height="43.1"/></clipPath>
<g clip-path="url(#emG)">
<rect x="305.5" y="231.8" width="43.6" height="43.1" fill="#c2c2c2"/>
<ellipse cx="318.5" cy="236.5" rx="3.22" ry="5.00" fill="#585858" stroke="#2e2e2e" stroke-width="0.8" transform="rotate(0 318.5 236.5)"/>
<ellipse cx="309.5" cy="237.5" rx="3.68" ry="6.00" fill="#585858" stroke="#2e2e2e" stroke-width="0.8" transform="rotate(-20 309.5 237.5)"/>
<ellipse cx="317.1" cy="246.9" rx="5.00" ry="4.60" fill="#585858" stroke="#2e2e2e" stroke-width="0.8" transform="rotate(0 317.1 246.9)"/>
<ellipse cx="314.3" cy="259.2" rx="7.00" ry="2.30" fill="#585858" stroke="#2e2e2e" stroke-width="0.8" transform="rotate(40 314.3 259.2)"/>
<ellipse cx="311.4" cy="267.6" rx="4.00" ry="1.84" fill="#585858" stroke="#2e2e2e" stroke-width="0.8" transform="rotate(45 311.4 267.6)"/>
<ellipse cx="328.4" cy="250.7" rx="2.76" ry="9.00" fill="#585858" stroke="#2e2e2e" stroke-width="0.8" transform="rotate(-35 328.4 250.7)"/>
<ellipse cx="330.3" cy="263.9" rx="6.00" ry="1.84" fill="#585858" stroke="#2e2e2e" stroke-width="0.8" transform="rotate(50 330.3 263.9)"/>
<ellipse cx="337.8" cy="246" rx="2.76" ry="8.00" fill="#585858" stroke="#2e2e2e" stroke-width="0.8" transform="rotate(-45 337.8 246)"/>
<ellipse cx="341.6" cy="257.3" rx="1.84" ry="10.00" fill="#585858" stroke="#2e2e2e" stroke-width="0.8" transform="rotate(-35 341.6 257.3)"/>
<ellipse cx="337.8" cy="265.8" rx="5.00" ry="1.84" fill="#585858" stroke="#2e2e2e" stroke-width="0.8" transform="rotate(45 337.8 265.8)"/>
<ellipse cx="331.2" cy="235.6" rx="2.76" ry="4.00" fill="#585858" stroke="#2e2e2e" stroke-width="0.8" transform="rotate(0 331.2 235.6)"/>
<ellipse cx="343.5" cy="234.7" rx="2.76" ry="4.00" fill="#585858" stroke="#2e2e2e" stroke-width="0.8" transform="rotate(0 343.5 234.7)"/>
<ellipse cx="346.3" cy="246" rx="2.30" ry="6.00" fill="#585858" stroke="#2e2e2e" stroke-width="0.8" transform="rotate(0 346.3 246)"/>
<ellipse cx="325.6" cy="269.5" rx="1.84" ry="4.00" fill="#585858" stroke="#2e2e2e" stroke-width="0.8" transform="rotate(0 325.6 269.5)"/>
<ellipse cx="319.9" cy="269.5" rx="2.76" ry="4.00" fill="#585858" stroke="#2e2e2e" stroke-width="0.8" transform="rotate(0 319.9 269.5)"/>
<ellipse cx="309" cy="272" rx="3.00" ry="1.38" fill="#585858" stroke="#2e2e2e" stroke-width="0.8" transform="rotate(0 309 272)"/>
</g>
<rect x="306.0" y="232.3" width="42.6" height="42.1" fill="none" stroke="#5a5a5a" stroke-width="1"/>
<text transform="translate(188.4 205.5) scale(0.98 1)" font-size="9.2" text-anchor="middle" fill="#222" stroke="#222" stroke-width="0.15">HD</text>
<text transform="translate(235.2 180.1) scale(0.98 1)" font-size="9.2" text-anchor="middle" fill="#222" stroke="#222" stroke-width="0.15">A</text>
<text transform="translate(281.2 180.1) scale(0.98 1)" font-size="9.2" text-anchor="middle" fill="#222" stroke="#222" stroke-width="0.15">C</text>
<text transform="translate(326.8 180.1) scale(0.98 1)" font-size="9.2" text-anchor="middle" fill="#222" stroke="#222" stroke-width="0.15">D1</text>
<text transform="translate(235.2 286.1) scale(0.98 1)" font-size="9.2" text-anchor="middle" fill="#222" stroke="#222" stroke-width="0.15">D2</text>
<text transform="translate(281.2 286.1) scale(0.98 1)" font-size="9.2" text-anchor="middle" fill="#222" stroke="#222" stroke-width="0.15">F</text>
<text transform="translate(327 286.1) scale(0.98 1)" font-size="9.2" text-anchor="middle" fill="#222" stroke="#222" stroke-width="0.15">G</text>
<text transform="translate(359.3 166) scale(1.13 1)" font-size="12" font-weight="bold" fill="#111">E</text>
<line x1="399.3" y1="173.5" x2="399.3" y2="264.1" stroke="#231f20" stroke-width="1.2"/>
<line x1="396.3" y1="263.5" x2="399.3" y2="263.5" stroke="#231f20" stroke-width="1"/>
<text transform="translate(393.6 266.6) scale(0.9 1)" font-size="9.2" text-anchor="end" fill="#2b2b2b" stroke="#2b2b2b" stroke-width="0.15">0</text>
<line x1="396.3" y1="248.97" x2="399.3" y2="248.97" stroke="#231f20" stroke-width="1"/>
<text transform="translate(393.6 252.07) scale(0.9 1)" font-size="9.2" text-anchor="end" fill="#2b2b2b" stroke="#2b2b2b" stroke-width="0.15">1</text>
<line x1="396.3" y1="234.44" x2="399.3" y2="234.44" stroke="#231f20" stroke-width="1"/>
<text transform="translate(393.6 237.54) scale(0.9 1)" font-size="9.2" text-anchor="end" fill="#2b2b2b" stroke="#2b2b2b" stroke-width="0.15">2</text>
<line x1="396.3" y1="219.91" x2="399.3" y2="219.91" stroke="#231f20" stroke-width="1"/>
<text transform="translate(393.6 223.01) scale(0.9 1)" font-size="9.2" text-anchor="end" fill="#2b2b2b" stroke="#2b2b2b" stroke-width="0.15">3</text>
<line x1="396.3" y1="205.38" x2="399.3" y2="205.38" stroke="#231f20" stroke-width="1"/>
<text transform="translate(393.6 208.48) scale(0.9 1)" font-size="9.2" text-anchor="end" fill="#2b2b2b" stroke="#2b2b2b" stroke-width="0.15">4</text>
<line x1="396.3" y1="190.85000000000002" x2="399.3" y2="190.85000000000002" stroke="#231f20" stroke-width="1"/>
<text transform="translate(393.6 193.95000000000002) scale(0.9 1)" font-size="9.2" text-anchor="end" fill="#2b2b2b" stroke="#2b2b2b" stroke-width="0.15">5</text>
<line x1="396.3" y1="176.32" x2="399.3" y2="176.32" stroke="#231f20" stroke-width="1"/>
<text transform="translate(393.6 179.42) scale(0.9 1)" font-size="9.2" text-anchor="end" fill="#2b2b2b" stroke="#2b2b2b" stroke-width="0.15">6</text>
<line x1="396" y1="263.5" x2="512" y2="263.5" stroke="#231f20" stroke-width="1.2"/>
<rect x="402" y="222.0895" width="11.7" height="41.4105" fill="#c8102e"/>
<text transform="translate(407.85 274.6) scale(0.98 1)" font-size="8.6" text-anchor="middle" fill="#2b2b2b" stroke="#2b2b2b" stroke-width="0.15">HDs</text>
<rect x="418.1" y="187.2175" width="11.7" height="76.2825" fill="#1a4a8a"/>
<line x1="423.95000000000005" y1="187.2175" x2="423.95000000000005" y2="180.679" stroke="#231f20" stroke-width="1.2"/>
<line x1="420.25000000000006" y1="180.679" x2="427.65000000000003" y2="180.679" stroke="#231f20" stroke-width="1.2"/>
<text transform="translate(423.95000000000005 274.6) scale(0.98 1)" font-size="8.6" text-anchor="middle" fill="#2b2b2b" stroke="#2b2b2b" stroke-width="0.15">A</text>
<rect x="434.2" y="234.44" width="11.7" height="29.06" fill="#3aa935"/>
<line x1="440.05" y1="234.44" x2="440.05" y2="232.2605" stroke="#231f20" stroke-width="1.2"/>
<line x1="436.35" y1="232.2605" x2="443.75" y2="232.2605" stroke="#231f20" stroke-width="1.2"/>
<text transform="translate(440.05 274.6) scale(0.98 1)" font-size="8.6" text-anchor="middle" fill="#2b2b2b" stroke="#2b2b2b" stroke-width="0.15">C</text>
<rect x="450.4" y="211.9185" width="11.7" height="51.5815" fill="#5e2a6e"/>
<line x1="456.25" y1="211.9185" x2="456.25" y2="208.286" stroke="#231f20" stroke-width="1.2"/>
<line x1="452.55" y1="208.286" x2="459.95" y2="208.286" stroke="#231f20" stroke-width="1.2"/>
<text transform="translate(456.25 274.6) scale(0.98 1)" font-size="8.6" text-anchor="middle" fill="#2b2b2b" stroke="#2b2b2b" stroke-width="0.15">D1</text>
<rect x="466.5" y="220.6365" width="11.7" height="42.8635" fill="#f39019"/>
<line x1="472.35" y1="220.6365" x2="472.35" y2="217.7305" stroke="#231f20" stroke-width="1.2"/>
<line x1="468.65000000000003" y1="217.7305" x2="476.05" y2="217.7305" stroke="#231f20" stroke-width="1.2"/>
<text transform="translate(472.35 274.6) scale(0.98 1)" font-size="8.6" text-anchor="middle" fill="#2b2b2b" stroke="#2b2b2b" stroke-width="0.15">D2</text>
<rect x="482.6" y="216.2775" width="11.7" height="47.2225" fill="#12684e"/>
<line x1="488.45000000000005" y1="216.2775" x2="488.45000000000005" y2="212.645" stroke="#231f20" stroke-width="1.2"/>
<line x1="484.75000000000006" y1="212.645" x2="492.15000000000003" y2="212.645" stroke="#231f20" stroke-width="1.2"/>
<text transform="translate(488.45000000000005 274.6) scale(0.98 1)" font-size="8.6" text-anchor="middle" fill="#2b2b2b" stroke="#2b2b2b" stroke-width="0.15">F</text>
<rect x="498.8" y="223.54250000000002" width="11.7" height="39.957499999999996" fill="#9487c4"/>
<line x1="504.65000000000003" y1="223.54250000000002" x2="504.65000000000003" y2="220.6365" stroke="#231f20" stroke-width="1.2"/>
<line x1="500.95000000000005" y1="220.6365" x2="508.35" y2="220.6365" stroke="#231f20" stroke-width="1.2"/>
<text transform="translate(504.65000000000003 274.6) scale(0.98 1)" font-size="8.6" text-anchor="middle" fill="#2b2b2b" stroke="#2b2b2b" stroke-width="0.15">G</text>
<path d="M419.95 175.33L419.95 178.03M418.78 176.00L421.12 177.35M421.12 176.00L418.78 177.35" stroke="#222" stroke-width="0.95" stroke-linecap="round" fill="none"/>
<path d="M423.95 175.33L423.95 178.03M422.78 176.00L425.12 177.35M425.12 176.00L422.78 177.35" stroke="#222" stroke-width="0.95" stroke-linecap="round" fill="none"/>
<path d="M427.95 175.33L427.95 178.03M426.78 176.00L429.12 177.35M429.12 176.00L426.78 177.35" stroke="#222" stroke-width="0.95" stroke-linecap="round" fill="none"/>
<path d="M436.05 226.91L436.05 229.61M434.88 227.59L437.22 228.94M437.22 227.59L434.88 228.94" stroke="#222" stroke-width="0.95" stroke-linecap="round" fill="none"/>
<path d="M440.05 226.91L440.05 229.61M438.88 227.59L441.22 228.94M441.22 227.59L438.88 228.94" stroke="#222" stroke-width="0.95" stroke-linecap="round" fill="none"/>
<path d="M444.05 226.91L444.05 229.61M442.88 227.59L445.22 228.94M445.22 227.59L442.88 228.94" stroke="#222" stroke-width="0.95" stroke-linecap="round" fill="none"/>
<path d="M454.25 202.94L454.25 205.64M453.08 203.61L455.42 204.96M455.42 203.61L453.08 204.96" stroke="#222" stroke-width="0.95" stroke-linecap="round" fill="none"/>
<path d="M458.25 202.94L458.25 205.64M457.08 203.61L459.42 204.96M459.42 203.61L457.08 204.96" stroke="#222" stroke-width="0.95" stroke-linecap="round" fill="none"/>
<text transform="translate(382.4 218.1) rotate(-90)" font-size="8.4" text-anchor="middle" fill="#2b2b2b" stroke="#2b2b2b" stroke-width="0.15">Platelet surface (&#181;m<tspan dy="-3" font-size="5.5">2</tspan><tspan dy="3">)</tspan></text>
<text transform="translate(7.3 313.9) scale(1.13 1)" font-size="12" font-weight="bold" fill="#111">F</text>
<line x1="68" y1="322" x2="68" y2="414.20000000000005" stroke="#231f20" stroke-width="1.2"/>
<line x1="65" y1="413.6" x2="68" y2="413.6" stroke="#231f20" stroke-width="1"/>
<text transform="translate(61.2 416.70000000000005) scale(0.97 1)" font-size="8.7" text-anchor="end" fill="#2b2b2b" stroke="#2b2b2b" stroke-width="0.15">1.0</text>
<line x1="65" y1="399.13500000000005" x2="68" y2="399.13500000000005" stroke="#231f20" stroke-width="1"/>
<text transform="translate(61.2 402.23500000000007) scale(0.97 1)" font-size="8.7" text-anchor="end" fill="#2b2b2b" stroke="#2b2b2b" stroke-width="0.15">1.5</text>
<line x1="65" y1="384.67" x2="68" y2="384.67" stroke="#231f20" stroke-width="1"/>
<text transform="translate(61.2 387.77000000000004) scale(0.97 1)" font-size="8.7" text-anchor="end" fill="#2b2b2b" stroke="#2b2b2b" stroke-width="0.15">2.0</text>
<line x1="65" y1="370.20500000000004" x2="68" y2="370.20500000000004" stroke="#231f20" stroke-width="1"/>
<text transform="translate(61.2 373.30500000000006) scale(0.97 1)" font-size="8.7" text-anchor="end" fill="#2b2b2b" stroke="#2b2b2b" stroke-width="0.15">2.5</text>
<line x1="65" y1="355.74" x2="68" y2="355.74" stroke="#231f20" stroke-width="1"/>
<text transform="translate(61.2 358.84000000000003) scale(0.97 1)" font-size="8.7" text-anchor="end" fill="#2b2b2b" stroke="#2b2b2b" stroke-width="0.15">3.0</text>
<line x1="65" y1="341.27500000000003" x2="68" y2="341.27500000000003" stroke="#231f20" stroke-width="1"/>
<text transform="translate(61.2 344.37500000000006) scale(0.97 1)" font-size="8.7" text-anchor="end" fill="#2b2b2b" stroke="#2b2b2b" stroke-width="0.15">3.5</text>
<line x1="65" y1="326.81000000000006" x2="68" y2="326.81000000000006" stroke="#231f20" stroke-width="1"/>
<text transform="translate(61.2 329.9100000000001) scale(0.97 1)" font-size="8.7" text-anchor="end" fill="#2b2b2b" stroke="#2b2b2b" stroke-width="0.15">4.0</text>
<line x1="65" y1="413.6" x2="181" y2="413.6" stroke="#231f20" stroke-width="1.2"/>
<rect x="70.0" y="370.20500000000004" width="11.9" height="43.394999999999996" fill="#c8102e"/>
<text transform="translate(75.95 424.2) scale(0.98 1)" font-size="8.6" text-anchor="middle" fill="#2b2b2b" stroke="#2b2b2b" stroke-width="0.15">HDs</text>
<rect x="86.13" y="384.67" width="11.9" height="28.93" fill="#1a4a8a"/>
<line x1="92.08" y1="384.67" x2="92.08" y2="381.77700000000004" stroke="#231f20" stroke-width="1.2"/>
<line x1="88.38" y1="381.77700000000004" x2="95.78" y2="381.77700000000004" stroke="#231f20" stroke-width="1.2"/>
<text transform="translate(92.08 424.2) scale(0.98 1)" font-size="8.6" text-anchor="middle" fill="#2b2b2b" stroke="#2b2b2b" stroke-width="0.15">A</text>
<rect x="102.26" y="368.7585" width="11.9" height="44.841499999999996" fill="#3aa935"/>
<line x1="108.21000000000001" y1="368.7585" x2="108.21000000000001" y2="365.2869" stroke="#231f20" stroke-width="1.2"/>
<line x1="104.51" y1="365.2869" x2="111.91000000000001" y2="365.2869" stroke="#231f20" stroke-width="1.2"/>
<text transform="translate(108.21000000000001 424.2) scale(0.98 1)" font-size="8.6" text-anchor="middle" fill="#2b2b2b" stroke="#2b2b2b" stroke-width="0.15">C</text>
<rect x="118.39" y="363.84040000000005" width="11.9" height="49.759600000000006" fill="#5e2a6e"/>
<line x1="124.34" y1="363.84040000000005" x2="124.34" y2="360.0795" stroke="#231f20" stroke-width="1.2"/>
<line x1="120.64" y1="360.0795" x2="128.04" y2="360.0795" stroke="#231f20" stroke-width="1.2"/>
<text transform="translate(124.34 424.2) scale(0.98 1)" font-size="8.6" text-anchor="middle" fill="#2b2b2b" stroke="#2b2b2b" stroke-width="0.15">D1</text>
<rect x="134.52" y="353.42560000000003" width="11.9" height="60.1744" fill="#f39019"/>
<line x1="140.47" y1="353.42560000000003" x2="140.47" y2="349.3754" stroke="#231f20" stroke-width="1.2"/>
<line x1="136.77" y1="349.3754" x2="144.17" y2="349.3754" stroke="#231f20" stroke-width="1.2"/>
<text transform="translate(140.47 424.2) scale(0.98 1)" font-size="8.6" text-anchor="middle" fill="#2b2b2b" stroke="#2b2b2b" stroke-width="0.15">D2</text>
<rect x="150.65" y="373.098" width="11.9" height="40.501999999999995" fill="#12684e"/>
<line x1="156.6" y1="373.098" x2="156.6" y2="370.20500000000004" stroke="#231f20" stroke-width="1.2"/>
<line x1="152.9" y1="370.20500000000004" x2="160.29999999999998" y2="370.20500000000004" stroke="#231f20" stroke-width="1.2"/>
<text transform="translate(156.6 424.2) scale(0.98 1)" font-size="8.6" text-anchor="middle" fill="#2b2b2b" stroke="#2b2b2b" stroke-width="0.15">F</text>
<rect x="166.78000000000003" y="345.6145" width="11.9" height="67.9855" fill="#9487c4"/>
<line x1="172.73000000000002" y1="345.6145" x2="172.73000000000002" y2="341.27500000000003" stroke="#231f20" stroke-width="1.2"/>
<line x1="169.03000000000003" y1="341.27500000000003" x2="176.43" y2="341.27500000000003" stroke="#231f20" stroke-width="1.2"/>
<text transform="translate(172.73000000000002 424.2) scale(0.98 1)" font-size="8.6" text-anchor="middle" fill="#2b2b2b" stroke="#2b2b2b" stroke-width="0.15">G</text>
<path d="M88.08 376.43L88.08 379.13M86.91 377.10L89.25 378.45M89.25 377.10L86.91 378.45" stroke="#222" stroke-width="0.95" stroke-linecap="round" fill="none"/>
<path d="M92.08 376.43L92.08 379.13M90.91 377.10L93.25 378.45M93.25 377.10L90.91 378.45" stroke="#222" stroke-width="0.95" stroke-linecap="round" fill="none"/>
<path d="M96.08 376.43L96.08 379.13M94.91 377.10L97.25 378.45M97.25 377.10L94.91 378.45" stroke="#222" stroke-width="0.95" stroke-linecap="round" fill="none"/>
<path d="M124.34 354.73L124.34 357.43M123.17 355.40L125.51 356.75M125.51 355.40L123.17 356.75" stroke="#222" stroke-width="0.95" stroke-linecap="round" fill="none"/>
<path d="M136.47 344.03L136.47 346.73M135.30 344.70L137.64 346.05M137.64 344.70L135.30 346.05" stroke="#222" stroke-width="0.95" stroke-linecap="round" fill="none"/>
<path d="M140.47 344.03L140.47 346.73M139.30 344.70L141.64 346.05M141.64 344.70L139.30 346.05" stroke="#222" stroke-width="0.95" stroke-linecap="round" fill="none"/>
<path d="M144.47 344.03L144.47 346.73M143.30 344.70L145.64 346.05M145.64 344.70L143.30 346.05" stroke="#222" stroke-width="0.95" stroke-linecap="round" fill="none"/>
<path d="M168.73 335.93L168.73 338.63M167.56 336.60L169.90 337.95M169.90 336.60L167.56 337.95" stroke="#222" stroke-width="0.95" stroke-linecap="round" fill="none"/>
<path d="M172.73 335.93L172.73 338.63M171.56 336.60L173.90 337.95M173.90 336.60L171.56 337.95" stroke="#222" stroke-width="0.95" stroke-linecap="round" fill="none"/>
<path d="M176.73 335.93L176.73 338.63M175.56 336.60L177.90 337.95M177.90 336.60L175.56 337.95" stroke="#222" stroke-width="0.95" stroke-linecap="round" fill="none"/>
<line x1="68" y1="370.2" x2="184" y2="370.2" stroke="#333" stroke-width="0.8" stroke-dasharray="1 1.2"/>
<line x1="185.5" y1="334" x2="185.5" y2="366.7" stroke="#231f20" stroke-width="0.9"/>
<path d="M185.5 330.5 L183.3 335.8 L187.7 335.8 Z" fill="#111"/>
<line x1="185.5" y1="376" x2="185.5" y2="409.5" stroke="#231f20" stroke-width="0.9"/>
<path d="M185.5 413.5 L183.3 408.2 L187.7 408.2 Z" fill="#111"/>
<text transform="translate(201.3 349) rotate(90)" font-size="8.6" text-anchor="middle" fill="#2b2b2b" stroke="#2b2b2b" stroke-width="0.15" textLength="37.00" lengthAdjust="spacingAndGlyphs">Elongated</text>
<text transform="translate(190.5 349) rotate(90)" font-size="8.6" text-anchor="middle" fill="#2b2b2b" stroke="#2b2b2b" stroke-width="0.15" textLength="32.00" lengthAdjust="spacingAndGlyphs">platelets</text>
<text transform="translate(201.3 395) rotate(90)" font-size="8.6" text-anchor="middle" fill="#2b2b2b" stroke="#2b2b2b" stroke-width="0.15" textLength="33.50" lengthAdjust="spacingAndGlyphs">Rounded</text>
<text transform="translate(190.5 395) rotate(90)" font-size="8.6" text-anchor="middle" fill="#2b2b2b" stroke="#2b2b2b" stroke-width="0.15" textLength="32.00" lengthAdjust="spacingAndGlyphs">platelets</text>
<text transform="translate(31.8 365.6) rotate(-90)" font-size="8.8" text-anchor="middle" fill="#2b2b2b" stroke="#2b2b2b" stroke-width="0.15" textLength="77.50" lengthAdjust="spacingAndGlyphs">Platelet morphology</text>
<text transform="translate(44.2 368.2) rotate(-90)" font-size="8.8" text-anchor="middle" fill="#2b2b2b" stroke="#2b2b2b" stroke-width="0.15" textLength="98.70" lengthAdjust="spacingAndGlyphs">(ratio large/small diameter)</text>
<text transform="translate(228.5 313.7) scale(1.13 1)" font-size="12" font-weight="bold" fill="#111">G</text>
<line x1="276.2" y1="324" x2="276.2" y2="414.5" stroke="#231f20" stroke-width="1.2"/>
<line x1="273.2" y1="413.9" x2="276.2" y2="413.9" stroke="#231f20" stroke-width="1"/>
<text transform="translate(270.8 417.0)" font-size="8.7" text-anchor="end" fill="#2b2b2b" stroke="#2b2b2b" stroke-width="0.15">0</text>
<line x1="273.2" y1="406.58299999999997" x2="276.2" y2="406.58299999999997" stroke="#231f20" stroke-width="1"/>
<text transform="translate(270.8 409.683)" font-size="8.7" text-anchor="end" fill="#2b2b2b" stroke="#2b2b2b" stroke-width="0.15">10</text>
<line x1="273.2" y1="399.26599999999996" x2="276.2" y2="399.26599999999996" stroke="#231f20" stroke-width="1"/>
<text transform="translate(270.8 402.366)" font-size="8.7" text-anchor="end" fill="#2b2b2b" stroke="#2b2b2b" stroke-width="0.15">20</text>
<line x1="273.2" y1="391.94899999999996" x2="276.2" y2="391.94899999999996" stroke="#231f20" stroke-width="1"/>
<text transform="translate(270.8 395.049)" font-size="8.7" text-anchor="end" fill="#2b2b2b" stroke="#2b2b2b" stroke-width="0.15">30</text>
<line x1="273.2" y1="384.63199999999995" x2="276.2" y2="384.63199999999995" stroke="#231f20" stroke-width="1"/>
<text transform="translate(270.8 387.73199999999997)" font-size="8.7" text-anchor="end" fill="#2b2b2b" stroke="#2b2b2b" stroke-width="0.15">40</text>
<line x1="273.2" y1="377.315" x2="276.2" y2="377.315" stroke="#231f20" stroke-width="1"/>
<text transform="translate(270.8 380.415)" font-size="8.7" text-anchor="end" fill="#2b2b2b" stroke="#2b2b2b" stroke-width="0.15">50</text>
<line x1="273.2" y1="369.998" x2="276.2" y2="369.998" stroke="#231f20" stroke-width="1"/>
<text transform="translate(270.8 373.098)" font-size="8.7" text-anchor="end" fill="#2b2b2b" stroke="#2b2b2b" stroke-width="0.15">60</text>
<line x1="273.2" y1="362.681" x2="276.2" y2="362.681" stroke="#231f20" stroke-width="1"/>
<text transform="translate(270.8 365.781)" font-size="8.7" text-anchor="end" fill="#2b2b2b" stroke="#2b2b2b" stroke-width="0.15">70</text>
<line x1="273.2" y1="355.364" x2="276.2" y2="355.364" stroke="#231f20" stroke-width="1"/>
<text transform="translate(270.8 358.464)" font-size="8.7" text-anchor="end" fill="#2b2b2b" stroke="#2b2b2b" stroke-width="0.15">80</text>
<line x1="273.2" y1="348.04699999999997" x2="276.2" y2="348.04699999999997" stroke="#231f20" stroke-width="1"/>
<text transform="translate(270.8 351.147)" font-size="8.7" text-anchor="end" fill="#2b2b2b" stroke="#2b2b2b" stroke-width="0.15">90</text>
<line x1="273.2" y1="340.72999999999996" x2="276.2" y2="340.72999999999996" stroke="#231f20" stroke-width="1"/>
<text transform="translate(270.8 343.83)" font-size="8.7" text-anchor="end" fill="#2b2b2b" stroke="#2b2b2b" stroke-width="0.15">100</text>
<line x1="273.2" y1="333.413" x2="276.2" y2="333.413" stroke="#231f20" stroke-width="1"/>
<text transform="translate(270.8 336.51300000000003)" font-size="8.7" text-anchor="end" fill="#2b2b2b" stroke="#2b2b2b" stroke-width="0.15">110</text>
<line x1="273.2" y1="326.096" x2="276.2" y2="326.096" stroke="#231f20" stroke-width="1"/>
<text transform="translate(270.8 329.196)" font-size="8.7" text-anchor="end" fill="#2b2b2b" stroke="#2b2b2b" stroke-width="0.15">120</text>
<line x1="273.5" y1="413.9" x2="394" y2="413.9" stroke="#231f20" stroke-width="1.2"/>
<rect x="278.5" y="340.72999999999996" width="12.4" height="73.17" fill="#c9c9cf"/>
<rect x="278.5" y="368.53459999999995" width="12.4" height="28.5363" fill="#a6bf7c"/>
<rect x="278.5" y="397.0709" width="12.4" height="16.8291" fill="#e5007d"/>
<text transform="translate(284.7 424.9) scale(0.98 1)" font-size="8.6" text-anchor="middle" fill="#2b2b2b" stroke="#2b2b2b" stroke-width="0.15">HDs</text>
<rect x="295.3" y="340.72999999999996" width="12.4" height="73.17" fill="#c9c9cf"/>
<rect x="295.3" y="383.90029999999996" width="12.4" height="18.2925" fill="#a6bf7c"/>
<rect x="295.3" y="402.1928" width="12.4" height="11.7072" fill="#e5007d"/>
<text transform="translate(301.5 424.9) scale(0.98 1)" font-size="8.6" text-anchor="middle" fill="#2b2b2b" stroke="#2b2b2b" stroke-width="0.15">A</text>
<rect x="312" y="340.72999999999996" width="12.4" height="73.17" fill="#c9c9cf"/>
<rect x="312" y="387.55879999999996" width="12.4" height="11.7072" fill="#a6bf7c"/>
<rect x="312" y="399.26599999999996" width="12.4" height="14.634" fill="#e5007d"/>
<text transform="translate(318.2 424.9) scale(0.98 1)" font-size="8.6" text-anchor="middle" fill="#2b2b2b" stroke="#2b2b2b" stroke-width="0.15">C</text>
<rect x="328.6" y="340.72999999999996" width="12.4" height="73.17" fill="#c9c9cf"/>
<rect x="328.6" y="393.70507999999995" width="12.4" height="10.316970000000001" fill="#a6bf7c"/>
<rect x="328.6" y="404.02205" width="12.4" height="9.87795" fill="#e5007d"/>
<text transform="translate(334.8 424.9) scale(0.98 1)" font-size="8.6" text-anchor="middle" fill="#2b2b2b" stroke="#2b2b2b" stroke-width="0.15">D1</text>
<rect x="345.4" y="340.72999999999996" width="12.4" height="73.17" fill="#c9c9cf"/>
<rect x="345.4" y="356.53472" width="12.4" height="15.877890000000003" fill="#a6bf7c"/>
<rect x="345.4" y="372.41261" width="12.4" height="41.487390000000005" fill="#e5007d"/>
<text transform="translate(351.59999999999997 424.9) scale(0.98 1)" font-size="8.6" text-anchor="middle" fill="#2b2b2b" stroke="#2b2b2b" stroke-width="0.15">D2</text>
<rect x="362.1" y="340.72999999999996" width="12.4" height="73.17" fill="#c9c9cf"/>
<rect x="362.1" y="389.53439" width="12.4" height="13.46328" fill="#a6bf7c"/>
<rect x="362.1" y="402.99766999999997" width="12.4" height="10.902330000000001" fill="#e5007d"/>
<text transform="translate(368.3 424.9) scale(0.98 1)" font-size="8.6" text-anchor="middle" fill="#2b2b2b" stroke="#2b2b2b" stroke-width="0.15">F</text>
<rect x="378.9" y="340.72999999999996" width="12.4" height="73.17" fill="#c9c9cf"/>
<rect x="378.9" y="402.41231" width="12.4" height="5.70726" fill="#a6bf7c"/>
<rect x="378.9" y="408.11956999999995" width="12.4" height="5.78043" fill="#e5007d"/>
<text transform="translate(385.09999999999997 424.9) scale(0.98 1)" font-size="8.6" text-anchor="middle" fill="#2b2b2b" stroke="#2b2b2b" stroke-width="0.15">G</text>
<line x1="284.7" y1="397.0709" x2="284.7" y2="394.87579999999997" stroke="#231f20" stroke-width="1.2"/>
<line x1="281.5" y1="394.87579999999997" x2="287.9" y2="394.87579999999997" stroke="#231f20" stroke-width="1.2"/>
<line x1="284.7" y1="368.53459999999995" x2="284.7" y2="366.3395" stroke="#231f20" stroke-width="1.2"/>
<line x1="281.5" y1="366.3395" x2="287.9" y2="366.3395" stroke="#231f20" stroke-width="1.2"/>
<line x1="284.7" y1="340.72999999999996" x2="284.7" y2="337.80319999999995" stroke="#231f20" stroke-width="1.2"/>
<line x1="281.5" y1="337.80319999999995" x2="287.9" y2="337.80319999999995" stroke="#231f20" stroke-width="1.2"/>
<line x1="301.5" y1="402.1928" x2="301.5" y2="398.5343" stroke="#231f20" stroke-width="1.2"/>
<line x1="298.3" y1="398.5343" x2="304.7" y2="398.5343" stroke="#231f20" stroke-width="1.2"/>
<line x1="301.5" y1="383.90029999999996" x2="301.5" y2="376.5833" stroke="#231f20" stroke-width="1.2"/>
<line x1="298.3" y1="376.5833" x2="304.7" y2="376.5833" stroke="#231f20" stroke-width="1.2"/>
<line x1="301.5" y1="340.72999999999996" x2="301.5" y2="332.68129999999996" stroke="#231f20" stroke-width="1.2"/>
<line x1="298.3" y1="332.68129999999996" x2="304.7" y2="332.68129999999996" stroke="#231f20" stroke-width="1.2"/>
<line x1="318.2" y1="399.26599999999996" x2="318.2" y2="395.60749999999996" stroke="#231f20" stroke-width="1.2"/>
<line x1="315.0" y1="395.60749999999996" x2="321.4" y2="395.60749999999996" stroke="#231f20" stroke-width="1.2"/>
<line x1="318.2" y1="387.55879999999996" x2="318.2" y2="386.0954" stroke="#231f20" stroke-width="1.2"/>
<line x1="315.0" y1="386.0954" x2="321.4" y2="386.0954" stroke="#231f20" stroke-width="1.2"/>
<line x1="318.2" y1="340.72999999999996" x2="318.2" y2="339.9983" stroke="#231f20" stroke-width="1.2"/>
<line x1="315.0" y1="339.9983" x2="321.4" y2="339.9983" stroke="#231f20" stroke-width="1.2"/>
<path d="M301.50 327.33L301.50 330.03M300.33 328.01L302.67 329.36M302.67 328.01L300.33 329.36" stroke="#222" stroke-width="0.95" stroke-linecap="round" fill="none"/>
<path d="M316.20 327.65L316.20 330.35M315.03 328.32L317.37 329.68M317.37 328.32L315.03 329.68" stroke="#222" stroke-width="0.95" stroke-linecap="round" fill="none"/>
<path d="M320.20 327.65L320.20 330.35M319.03 328.32L321.37 329.68M321.37 328.32L319.03 329.68" stroke="#222" stroke-width="0.95" stroke-linecap="round" fill="none"/>
<path d="M318.20 380.75L318.20 383.45M317.03 381.42L319.37 382.77M319.37 381.42L317.03 382.77" stroke="#222" stroke-width="0.95" stroke-linecap="round" fill="none"/>
<text transform="translate(249.6 368.3) rotate(-90)" font-size="8.6" text-anchor="middle" fill="#2b2b2b" stroke="#2b2b2b" stroke-width="0.15" textLength="52.70" lengthAdjust="spacingAndGlyphs">Percentage (%)</text>
<rect x="401" y="358.7" width="5.6" height="5.6" fill="#e5007d"/>
<text transform="translate(410.6 364.5)" font-size="8.4" text-anchor="start" fill="#2b2b2b" stroke="#2b2b2b" stroke-width="0.15" textLength="58.40" lengthAdjust="spacingAndGlyphs">Discoid platelets</text>
<rect x="401" y="368.5" width="5.6" height="5.6" fill="#a6bf7c"/>
<text transform="translate(410.6 374.3)" font-size="8.4" text-anchor="start" fill="#2b2b2b" stroke="#2b2b2b" stroke-width="0.15" textLength="80.50" lengthAdjust="spacingAndGlyphs">Platelets with filopodia</text>
<rect x="401" y="378.3" width="5.6" height="5.6" fill="#c9c9cf"/>
<text transform="translate(410.6 384.1)" font-size="8.4" text-anchor="start" fill="#2b2b2b" stroke="#2b2b2b" stroke-width="0.15" textLength="102.00" lengthAdjust="spacingAndGlyphs">Platelets with lamellipodia or</text>
<text transform="translate(410.6 393.9)" font-size="8.4" text-anchor="start" fill="#2b2b2b" stroke="#2b2b2b" stroke-width="0.15">full spreading</text>
<text transform="translate(25.1 452.5) scale(1.13 1)" font-size="12" font-weight="bold" fill="#111">H</text>
<clipPath id="flHD"><rect x="37.8" y="495" width="57.2" height="37.5"/></clipPath>
<g clip-path="url(#flHD)">
<rect x="37.8" y="495" width="57.2" height="37.5" fill="#050505"/>
<polygon points="45.34,503.77 44.26,511.01 39.24,506.59" fill="rgb(80,80,80)" stroke="rgb(160,160,160)" stroke-width="1.3" stroke-linejoin="round" filter="url(#bl3)"/>
<polygon points="43.19,513.22 45.08,515.83 43.30,518.39 40.64,517.35 40.73,513.51" fill="rgb(190,190,190)" stroke="rgb(190,190,190)" stroke-width="0.8" stroke-linejoin="round" filter="url(#bl3)"/>
<polygon points="45.08,523.27 43.43,524.53 42.18,523.43 44.10,521.62" fill="rgb(110,110,110)" stroke="rgb(110,110,110)" stroke-width="0.8" stroke-linejoin="round" filter="url(#bl3)"/>
<polygon points="62.18,501.41 64.93,505.55 60.43,505.64" fill="rgb(190,190,190)" stroke="rgb(190,190,190)" stroke-width="0.8" stroke-linejoin="round" filter="url(#bl3)"/>
<polygon points="60.45,514.17 62.87,511.21 64.90,511.46 66.36,515.50 62.99,516.69" fill="rgb(210,210,210)" stroke="rgb(210,210,210)" stroke-width="0.8" stroke-linejoin="round" filter="url(#bl3)"/>
<polygon points="61.80,525.59 66.70,526.18 64.07,529.23" fill="rgb(230,230,230)" stroke="rgb(230,230,230)" stroke-width="0.8" stroke-linejoin="round" filter="url(#bl3)"/>
<polygon points="70.28,531.47 70.13,529.00 73.07,529.17 73.36,531.57" fill="rgb(200,200,200)" stroke="rgb(200,200,200)" stroke-width="0.8" stroke-linejoin="round" filter="url(#bl3)"/>
<polygon points="75.26,498.97 74.79,501.61 71.72,500.04" fill="rgb(180,180,180)" stroke="rgb(180,180,180)" stroke-width="0.8" stroke-linejoin="round" filter="url(#bl3)"/>
<polygon points="79.71,512.07 82.21,516.37 76.83,515.32" fill="rgb(220,220,220)" stroke="rgb(220,220,220)" stroke-width="0.8" stroke-linejoin="round" filter="url(#bl3)"/>
<polygon points="86.41,497.09 88.06,499.65 85.67,501.32 83.83,498.68" fill="rgb(190,190,190)" stroke="rgb(190,190,190)" stroke-width="0.8" stroke-linejoin="round" filter="url(#bl3)"/>
<polygon points="90.13,504.11 93.14,503.82 94.50,505.49 93.07,508.02 90.46,507.46" fill="rgb(230,230,230)" stroke="rgb(230,230,230)" stroke-width="0.8" stroke-linejoin="round" filter="url(#bl3)"/>
<polygon points="91.60,516.82 93.19,520.07 89.39,519.49" fill="rgb(150,150,150)" stroke="rgb(150,150,150)" stroke-width="0.8" stroke-linejoin="round" filter="url(#bl3)"/>
</g>
<rect x="87.8" y="529.2" width="5.5" height="1.4" fill="#f0f0f0"/>
<clipPath id="flA"><rect x="98.1" y="472.4" width="57.2" height="38.1"/></clipPath>
<g clip-path="url(#flA)">
<rect x="98.1" y="472.4" width="57.2" height="38.1" fill="#050505"/>
<ellipse cx="123.4" cy="479.5" rx="5.00" ry="4.70" fill="rgb(38,38,38)" stroke="rgb(125,125,125)" stroke-width="2.2" filter="url(#bl3)"/>
<polygon points="142.41,475.34 143.84,477.94 138.48,478.04" fill="rgb(230,230,230)" stroke="rgb(230,230,230)" stroke-width="0.8" stroke-linejoin="round" filter="url(#bl3)"/>
<polygon points="152.75,483.75 154.70,487.99 152.40,488.75" fill="rgb(90,90,90)" stroke="rgb(180,180,180)" stroke-width="1.3" stroke-linejoin="round" filter="url(#bl3)"/>
<polygon points="101.81,493.86 102.81,488.69 104.69,492.98" fill="rgb(80,80,80)" stroke="rgb(160,160,160)" stroke-width="1.3" stroke-linejoin="round" filter="url(#bl3)"/>
<polygon points="109.29,495.65 106.79,496.02 107.22,493.67" fill="rgb(240,240,240)" stroke="rgb(240,240,240)" stroke-width="0.8" stroke-linejoin="round" filter="url(#bl3)"/>
<polygon points="121.70,490.09 119.98,488.97 121.12,487.16 122.89,488.28" fill="rgb(170,170,170)" stroke="rgb(170,170,170)" stroke-width="0.8" stroke-linejoin="round" filter="url(#bl3)"/>
<polygon points="115.67,494.97 117.57,494.88 118.46,496.55 116.00,497.50 114.04,496.94" fill="rgb(220,220,220)" stroke="rgb(220,220,220)" stroke-width="0.8" stroke-linejoin="round" filter="url(#bl3)"/>
<ellipse cx="123.4" cy="500.6" rx="5.00" ry="3.50" fill="rgb(38,38,38)" stroke="rgb(125,125,125)" stroke-width="2.2" filter="url(#bl3)"/>
<polygon points="136.36,502.93 132.51,500.92 137.05,498.24" fill="rgb(75,75,75)" stroke="rgb(150,150,150)" stroke-width="1.3" stroke-linejoin="round" filter="url(#bl3)"/>
<polygon points="133.22,505.68 135.33,503.83 137.53,505.97" fill="rgb(120,120,120)" stroke="rgb(240,240,240)" stroke-width="1.3" stroke-linejoin="round" filter="url(#bl3)"/>
<polygon points="147.14,496.90 147.34,500.96 145.17,502.19 144.75,497.77" fill="rgb(85,85,85)" stroke="rgb(170,170,170)" stroke-width="1.3" stroke-linejoin="round" filter="url(#bl3)"/>
</g>
<rect x="148.10000000000002" y="507.2" width="5.5" height="1.4" fill="#f0f0f0"/>
<clipPath id="flC"><rect x="159.6" y="472.6" width="56.7" height="37.9"/></clipPath>
<g clip-path="url(#flC)">
<rect x="159.6" y="472.6" width="56.7" height="37.9" fill="#050505"/>
<polygon points="164.70,483.28 168.67,486.30 164.25,487.31" fill="rgb(110,110,110)" stroke="rgb(220,220,220)" stroke-width="1.3" stroke-linejoin="round" filter="url(#bl3)"/>
<polygon points="170.45,483.29 175.18,483.18 172.17,487.58" fill="rgb(95,95,95)" stroke="rgb(190,190,190)" stroke-width="1.3" stroke-linejoin="round" filter="url(#bl3)"/>
<polygon points="179.90,485.29 180.61,481.93 184.74,481.18 184.51,485.44" fill="rgb(95,95,95)" stroke="rgb(190,190,190)" stroke-width="1.3" stroke-linejoin="round" filter="url(#bl3)"/>
<polygon points="193.10,479.56 194.08,482.56 190.81,483.81 190.41,481.16" fill="rgb(90,90,90)" stroke="rgb(180,180,180)" stroke-width="1.3" stroke-linejoin="round" filter="url(#bl3)"/>
<polygon points="180.22,494.09 179.01,491.46 181.82,490.42 182.73,492.84" fill="rgb(170,170,170)" stroke="rgb(170,170,170)" stroke-width="0.8" stroke-linejoin="round" filter="url(#bl3)"/>
<polygon points="186.49,499.63 185.49,496.17 188.04,495.41 189.41,498.25" fill="rgb(95,95,95)" stroke="rgb(190,190,190)" stroke-width="1.3" stroke-linejoin="round" filter="url(#bl3)"/>
<polygon points="212.27,479.20 208.38,477.87 212.39,474.93" fill="rgb(90,90,90)" stroke="rgb(180,180,180)" stroke-width="1.3" stroke-linejoin="round" filter="url(#bl3)"/>
<polygon points="204.88,474.47 205.96,476.44 203.61,476.69" fill="rgb(240,240,240)" stroke="rgb(240,240,240)" stroke-width="0.8" stroke-linejoin="round" filter="url(#bl3)"/>
<polygon points="214.48,499.63 208.82,501.10 209.36,495.63" fill="rgb(85,85,85)" stroke="rgb(170,170,170)" stroke-width="1.3" stroke-linejoin="round" filter="url(#bl3)"/>
<polygon points="164.36,505.70 164.45,508.56 161.17,507.01" fill="rgb(95,95,95)" stroke="rgb(190,190,190)" stroke-width="1.3" stroke-linejoin="round" filter="url(#bl3)"/>
<polygon points="177.76,507.15 175.31,508.72 173.39,506.91 174.16,504.20 176.03,504.39" fill="rgb(90,90,90)" stroke="rgb(180,180,180)" stroke-width="1.3" stroke-linejoin="round" filter="url(#bl3)"/>
</g>
<rect x="209.10000000000002" y="507.2" width="5.5" height="1.4" fill="#f0f0f0"/>
<clipPath id="flG"><rect x="220" y="472.6" width="56.3" height="37.9"/></clipPath>
<g clip-path="url(#flG)">
<rect x="220" y="472.6" width="56.3" height="37.9" fill="#141414"/>
<polygon points="225.07,482.47 225.06,486.70 222.19,483.78" fill="rgb(75,75,75)" stroke="rgb(150,150,150)" stroke-width="1.3" stroke-linejoin="round" filter="url(#bl3)"/>
<polygon points="228.18,488.63 230.55,488.16 229.96,490.57" fill="rgb(240,240,240)" stroke="rgb(240,240,240)" stroke-width="0.8" stroke-linejoin="round" filter="url(#bl3)"/>
<polygon points="228.17,492.90 229.89,493.55 229.41,496.05 227.42,495.18" fill="rgb(230,230,230)" stroke="rgb(230,230,230)" stroke-width="0.8" stroke-linejoin="round" filter="url(#bl3)"/>
<polygon points="240.62,481.20 241.72,483.81 239.99,484.99 237.88,484.70 237.91,481.63" fill="rgb(85,85,85)" stroke="rgb(170,170,170)" stroke-width="1.3" stroke-linejoin="round" filter="url(#bl3)"/>
<polygon points="242.11,490.60 244.33,494.61 239.05,493.12" fill="rgb(75,75,75)" stroke="rgb(150,150,150)" stroke-width="1.3" stroke-linejoin="round" filter="url(#bl3)"/>
<polygon points="254.38,486.54 256.38,480.87 259.60,483.95" fill="rgb(90,90,90)" stroke="rgb(180,180,180)" stroke-width="1.3" stroke-linejoin="round" filter="url(#bl3)"/>
<polygon points="267.18,476.56 266.43,479.47 262.82,478.32 264.93,475.16" fill="rgb(75,75,75)" stroke="rgb(150,150,150)" stroke-width="1.3" stroke-linejoin="round" filter="url(#bl3)"/>
<polygon points="272.88,481.69 274.15,480.50 275.56,481.48 275.17,483.27 273.58,483.48" fill="rgb(240,240,240)" stroke="rgb(240,240,240)" stroke-width="0.8" stroke-linejoin="round" filter="url(#bl3)"/>
<polygon points="276.63,494.93 272.76,496.43 272.30,493.54 274.63,492.34" fill="rgb(75,75,75)" stroke="rgb(150,150,150)" stroke-width="1.3" stroke-linejoin="round" filter="url(#bl3)"/>
<polygon points="223.78,500.70 226.67,498.41 228.04,501.90" fill="rgb(70,70,70)" stroke="rgb(140,140,140)" stroke-width="1.3" stroke-linejoin="round" filter="url(#bl3)"/>
<polygon points="230.46,507.46 228.85,505.50 232.17,504.84" fill="rgb(150,150,150)" stroke="rgb(150,150,150)" stroke-width="0.8" stroke-linejoin="round" filter="url(#bl3)"/>
<polygon points="261.46,503.97 260.46,501.08 263.36,500.06 264.25,503.64" fill="rgb(80,80,80)" stroke="rgb(160,160,160)" stroke-width="1.3" stroke-linejoin="round" filter="url(#bl3)"/>
</g>
<rect x="269.1" y="507.2" width="5.5" height="1.4" fill="#f0f0f0"/>
<clipPath id="flD1"><rect x="98.1" y="514.3" width="57.2" height="37.6"/></clipPath>
<g clip-path="url(#flD1)">
<rect x="98.1" y="514.3" width="57.2" height="37.6" fill="#050505"/>
<polygon points="111.48,519.84 110.93,517.17 112.07,516.08 114.51,517.45 113.87,520.15" fill="rgb(60,60,60)" stroke="rgb(120,120,120)" stroke-width="1.3" stroke-linejoin="round" filter="url(#bl3)"/>
<polygon points="126.29,521.38 123.59,523.03 121.76,520.63 123.76,518.86" fill="rgb(60,60,60)" stroke="rgb(120,120,120)" stroke-width="1.3" stroke-linejoin="round" filter="url(#bl3)"/>
<polygon points="131.81,524.63 133.11,520.66 137.48,523.30" fill="rgb(60,60,60)" stroke="rgb(120,120,120)" stroke-width="1.3" stroke-linejoin="round" filter="url(#bl3)"/>
<polygon points="126.45,532.43 125.90,529.81 129.09,528.28 129.92,531.76" fill="rgb(60,60,60)" stroke="rgb(120,120,120)" stroke-width="1.3" stroke-linejoin="round" filter="url(#bl3)"/>
<polygon points="135.36,537.62 130.25,538.68 130.35,533.25 134.69,534.24" fill="rgb(65,65,65)" stroke="rgb(130,130,130)" stroke-width="1.3" stroke-linejoin="round" filter="url(#bl3)"/>
<polygon points="114.01,538.22 111.02,537.55 113.77,534.75" fill="rgb(60,60,60)" stroke="rgb(120,120,120)" stroke-width="1.3" stroke-linejoin="round" filter="url(#bl3)"/>
<polygon points="109.85,542.40 114.35,541.16 114.85,544.47 111.37,545.53" fill="rgb(65,65,65)" stroke="rgb(130,130,130)" stroke-width="1.3" stroke-linejoin="round" filter="url(#bl3)"/>
<polygon points="104.34,543.29 102.30,544.13 103.01,541.86" fill="rgb(230,230,230)" stroke="rgb(230,230,230)" stroke-width="0.8" stroke-linejoin="round" filter="url(#bl3)"/>
<polygon points="124.37,538.64 126.44,542.53 122.86,541.65" fill="rgb(60,60,60)" stroke="rgb(120,120,120)" stroke-width="1.3" stroke-linejoin="round" filter="url(#bl3)"/>
<polygon points="120.36,548.50 117.44,549.34 115.72,548.28 117.42,546.38 119.45,547.16" fill="rgb(60,60,60)" stroke="rgb(120,120,120)" stroke-width="1.3" stroke-linejoin="round" filter="url(#bl3)"/>
<polygon points="146.47,540.82 143.49,540.04 145.73,538.24" fill="rgb(65,65,65)" stroke="rgb(130,130,130)" stroke-width="1.3" stroke-linejoin="round" filter="url(#bl3)"/>
<polygon points="150.14,537.29 150.33,534.79 152.36,534.65 152.78,537.32" fill="rgb(65,65,65)" stroke="rgb(130,130,130)" stroke-width="1.3" stroke-linejoin="round" filter="url(#bl3)"/>
</g>
<rect x="148.10000000000002" y="548.6" width="5.5" height="1.4" fill="#f0f0f0"/>
<clipPath id="flD2"><rect x="159.6" y="514.3" width="56.7" height="37.6"/></clipPath>
<g clip-path="url(#flD2)">
<rect x="159.6" y="514.3" width="56.7" height="37.6" fill="#050505"/>
<polygon points="163.93,528.38 164.32,531.64 161.12,532.92 161.08,527.17" fill="rgb(220,220,220)" stroke="rgb(220,220,220)" stroke-width="0.8" stroke-linejoin="round" filter="url(#bl3)"/>
<polygon points="168.75,533.32 168.03,529.17 170.50,527.93 174.95,530.70 173.55,533.96" fill="rgb(85,85,85)" stroke="rgb(170,170,170)" stroke-width="1.3" stroke-linejoin="round" filter="url(#bl3)"/>
<polygon points="180.64,535.08 178.92,530.43 181.93,527.59 183.66,531.68" fill="rgb(85,85,85)" stroke="rgb(170,170,170)" stroke-width="1.3" stroke-linejoin="round" filter="url(#bl3)"/>
<polygon points="182.97,522.82 185.21,524.00 182.67,524.83" fill="rgb(170,170,170)" stroke="rgb(170,170,170)" stroke-width="0.8" stroke-linejoin="round" filter="url(#bl3)"/>
<polygon points="188.37,524.31 189.68,526.89 187.09,526.62" fill="rgb(230,230,230)" stroke="rgb(230,230,230)" stroke-width="0.8" stroke-linejoin="round" filter="url(#bl3)"/>
<polygon points="191.34,519.06 189.24,519.28 189.11,517.71 191.38,516.95" fill="rgb(170,170,170)" stroke="rgb(170,170,170)" stroke-width="0.8" stroke-linejoin="round" filter="url(#bl3)"/>
<polygon points="165.06,535.94 166.13,538.00 161.94,537.79" fill="rgb(190,190,190)" stroke="rgb(190,190,190)" stroke-width="0.8" stroke-linejoin="round" filter="url(#bl3)"/>
<polygon points="197.56,539.02 196.03,540.63 191.35,539.85 191.25,536.50 195.92,536.49" fill="rgb(70,70,70)" stroke="rgb(140,140,140)" stroke-width="1.3" stroke-linejoin="round" filter="url(#bl3)"/>
<polygon points="206.05,531.58 208.08,531.54 207.25,534.02" fill="rgb(170,170,170)" stroke="rgb(170,170,170)" stroke-width="0.8" stroke-linejoin="round" filter="url(#bl3)"/>
<polygon points="213.03,520.15 211.70,519.11 212.36,517.85 213.94,517.82 214.30,518.96" fill="rgb(220,220,220)" stroke="rgb(220,220,220)" stroke-width="0.8" stroke-linejoin="round" filter="url(#bl3)"/>
<polygon points="195.18,548.54 193.70,549.29 192.77,547.43 194.15,546.68" fill="rgb(230,230,230)" stroke="rgb(230,230,230)" stroke-width="0.8" stroke-linejoin="round" filter="url(#bl3)"/>
<polygon points="202.92,549.01 203.03,547.55 204.52,547.20 205.23,549.05 204.36,550.43" fill="rgb(200,200,200)" stroke="rgb(200,200,200)" stroke-width="0.8" stroke-linejoin="round" filter="url(#bl3)"/>
<polygon points="208.90,549.65 211.42,547.64 213.86,549.23 211.31,550.87" fill="rgb(230,230,230)" stroke="rgb(230,230,230)" stroke-width="0.8" stroke-linejoin="round" filter="url(#bl3)"/>
</g>
<rect x="209.10000000000002" y="548.6" width="5.5" height="1.4" fill="#f0f0f0"/>
<clipPath id="flF"><rect x="220" y="514.3" width="56.3" height="37.6"/></clipPath>
<g clip-path="url(#flF)">
<rect x="220" y="514.3" width="56.3" height="37.6" fill="#262626"/>
<polygon points="224.16,529.32 221.09,526.53 223.63,521.35 227.47,525.47" fill="rgb(90,90,90)" stroke="rgb(90,90,90)" stroke-width="0.8" stroke-linejoin="round" filter="url(#bl4)"/>
<polygon points="241.56,526.32 246.17,526.16 246.08,529.84 242.83,529.33" fill="rgb(170,170,170)" stroke="rgb(170,170,170)" stroke-width="0.8" stroke-linejoin="round" filter="url(#bl4)"/>
<polygon points="252.35,517.85 254.63,516.78 256.45,517.65 256.01,519.57 252.85,519.37" fill="rgb(100,100,100)" stroke="rgb(100,100,100)" stroke-width="0.8" stroke-linejoin="round" filter="url(#bl4)"/>
<polygon points="272.61,524.10 267.19,528.19 268.68,516.88" fill="rgb(130,130,130)" stroke="rgb(130,130,130)" stroke-width="0.8" stroke-linejoin="round" filter="url(#bl4)"/>
<polygon points="262.35,536.71 259.06,541.58 256.50,535.35" fill="rgb(130,130,130)" stroke="rgb(130,130,130)" stroke-width="0.8" stroke-linejoin="round" filter="url(#bl4)"/>
<polygon points="233.64,548.34 235.63,545.77 239.07,546.33 239.23,548.79 235.95,550.31" fill="rgb(110,110,110)" stroke="rgb(110,110,110)" stroke-width="0.8" stroke-linejoin="round" filter="url(#bl4)"/>
<polygon points="222.36,546.16 224.69,547.10 224.72,549.02 221.68,549.86 220.57,547.54" fill="rgb(100,100,100)" stroke="rgb(100,100,100)" stroke-width="0.8" stroke-linejoin="round" filter="url(#bl4)"/>
</g>
<rect x="269.1" y="548.6" width="5.5" height="1.4" fill="#f0f0f0"/>
<text transform="translate(66.7 491.4) scale(0.98 1)" font-size="9.2" text-anchor="middle" fill="#222" stroke="#222" stroke-width="0.15">HD</text>
<text transform="translate(127.2 467.7) scale(0.98 1)" font-size="9.2" text-anchor="middle" fill="#222" stroke="#222" stroke-width="0.15">A</text>
<text transform="translate(188 467.7) scale(0.98 1)" font-size="9.2" text-anchor="middle" fill="#222" stroke="#222" stroke-width="0.15">C</text>
<text transform="translate(247.8 467.7) scale(0.98 1)" font-size="9.2" text-anchor="middle" fill="#222" stroke="#222" stroke-width="0.15">G</text>
<text transform="translate(127 563.6) scale(0.98 1)" font-size="9.2" text-anchor="middle" fill="#222" stroke="#222" stroke-width="0.15">D1</text>
<text transform="translate(188.6 563.6) scale(0.98 1)" font-size="9.2" text-anchor="middle" fill="#222" stroke="#222" stroke-width="0.15">D2</text>
<text transform="translate(247.8 563.6) scale(0.98 1)" font-size="9.2" text-anchor="middle" fill="#222" stroke="#222" stroke-width="0.15">F</text>
<text transform="translate(316.8 452.5) scale(1.13 1)" font-size="12" font-weight="bold" fill="#111">I</text>
<line x1="360.2" y1="454.3" x2="360.2" y2="561.7" stroke="#231f20" stroke-width="1.2"/>
<line x1="357.2" y1="561.1" x2="360.2" y2="561.1" stroke="#231f20" stroke-width="1"/>
<text transform="translate(354.2 564.2)" font-size="8.7" text-anchor="end" fill="#2b2b2b" stroke="#2b2b2b" stroke-width="0.15">0</text>
<line x1="357.2" y1="542.34" x2="360.2" y2="542.34" stroke="#231f20" stroke-width="1"/>
<text transform="translate(354.2 545.44)" font-size="8.7" text-anchor="end" fill="#2b2b2b" stroke="#2b2b2b" stroke-width="0.15">20</text>
<line x1="357.2" y1="523.58" x2="360.2" y2="523.58" stroke="#231f20" stroke-width="1"/>
<text transform="translate(354.2 526.6800000000001)" font-size="8.7" text-anchor="end" fill="#2b2b2b" stroke="#2b2b2b" stroke-width="0.15">40</text>
<line x1="357.2" y1="504.82000000000005" x2="360.2" y2="504.82000000000005" stroke="#231f20" stroke-width="1"/>
<text transform="translate(354.2 507.9200000000001)" font-size="8.7" text-anchor="end" fill="#2b2b2b" stroke="#2b2b2b" stroke-width="0.15">60</text>
<line x1="357.2" y1="486.06000000000006" x2="360.2" y2="486.06000000000006" stroke="#231f20" stroke-width="1"/>
<text transform="translate(354.2 489.1600000000001)" font-size="8.7" text-anchor="end" fill="#2b2b2b" stroke="#2b2b2b" stroke-width="0.15">80</text>
<line x1="357.2" y1="467.3" x2="360.2" y2="467.3" stroke="#231f20" stroke-width="1"/>
<text transform="translate(354.2 470.40000000000003)" font-size="8.7" text-anchor="end" fill="#2b2b2b" stroke="#2b2b2b" stroke-width="0.15">100</text>
<line x1="358.7" y1="551.72" x2="360.2" y2="551.72" stroke="#231f20" stroke-width="0.9"/>
<line x1="358.7" y1="532.96" x2="360.2" y2="532.96" stroke="#231f20" stroke-width="0.9"/>
<line x1="358.7" y1="514.2" x2="360.2" y2="514.2" stroke="#231f20" stroke-width="0.9"/>
<line x1="358.7" y1="495.44000000000005" x2="360.2" y2="495.44000000000005" stroke="#231f20" stroke-width="0.9"/>
<line x1="358.7" y1="476.68" x2="360.2" y2="476.68" stroke="#231f20" stroke-width="0.9"/>
<line x1="357.2" y1="561.1" x2="476" y2="561.1" stroke="#231f20" stroke-width="1.2"/>
<rect x="363.5" y="467.3" width="13.8" height="93.80000000000001" fill="#c8102e"/>
<text transform="translate(370.4 571.6) scale(0.98 1)" font-size="8.6" text-anchor="middle" fill="#2b2b2b" stroke="#2b2b2b" stroke-width="0.15">HDs</text>
<text transform="translate(389.9 571.6) scale(0.98 1)" font-size="8.6" text-anchor="middle" fill="#2b2b2b" stroke="#2b2b2b" stroke-width="0.15">A</text>
<text transform="translate(393.0 556.5027000000001) rotate(-90) scale(0.93 1)" font-size="8.6" text-anchor="start" fill="#2b2b2b" stroke="#2b2b2b" stroke-width="0.15">0.85</text>
<rect x="402.1" y="523.3" width="13.8" height="37.80000000000007" fill="#5e2a6e"/>
<text transform="translate(409 571.6) scale(0.98 1)" font-size="8.6" text-anchor="middle" fill="#2b2b2b" stroke="#2b2b2b" stroke-width="0.15">D1</text>
<text transform="translate(412.1 519.5) rotate(-90) scale(0.93 1)" font-size="8.6" text-anchor="start" fill="#2b2b2b" stroke="#2b2b2b" stroke-width="0.15">41.60</text>
<rect x="421.20000000000005" y="552.0" width="13.8" height="9.100000000000023" fill="#f39019"/>
<text transform="translate(428.1 571.6) scale(0.98 1)" font-size="8.6" text-anchor="middle" fill="#2b2b2b" stroke="#2b2b2b" stroke-width="0.15">D2</text>
<text transform="translate(431.20000000000005 548.2) rotate(-90) scale(0.93 1)" font-size="8.6" text-anchor="start" fill="#2b2b2b" stroke="#2b2b2b" stroke-width="0.15">10.40</text>
<rect x="440.20000000000005" y="488.6" width="13.8" height="72.5" fill="#12684e"/>
<text transform="translate(447.1 571.6) scale(0.98 1)" font-size="8.6" text-anchor="middle" fill="#2b2b2b" stroke="#2b2b2b" stroke-width="0.15">F</text>
<text transform="translate(450.20000000000005 484.8) rotate(-90) scale(0.93 1)" font-size="8.6" text-anchor="start" fill="#2b2b2b" stroke="#2b2b2b" stroke-width="0.15">77.40</text>
<rect x="460.0" y="525.0" width="13.8" height="36.10000000000002" fill="#9487c4"/>
<text transform="translate(466.9 571.6) scale(0.98 1)" font-size="8.6" text-anchor="middle" fill="#2b2b2b" stroke="#2b2b2b" stroke-width="0.15">G</text>
<text transform="translate(470.0 521.2) rotate(-90) scale(0.93 1)" font-size="8.6" text-anchor="start" fill="#2b2b2b" stroke="#2b2b2b" stroke-width="0.15">38.90</text>
<text transform="translate(335 508.2) rotate(-90)" font-size="8.6" text-anchor="middle" fill="#2b2b2b" stroke="#2b2b2b" stroke-width="0.15" textLength="88.40" lengthAdjust="spacingAndGlyphs">Cdc42 activity (% of HDs)</text>
<rect x="0.5" y="0.5" width="519" height="580" fill="none" stroke="#3a3a3a" stroke-width="1"/>
</svg>
</body></html>
